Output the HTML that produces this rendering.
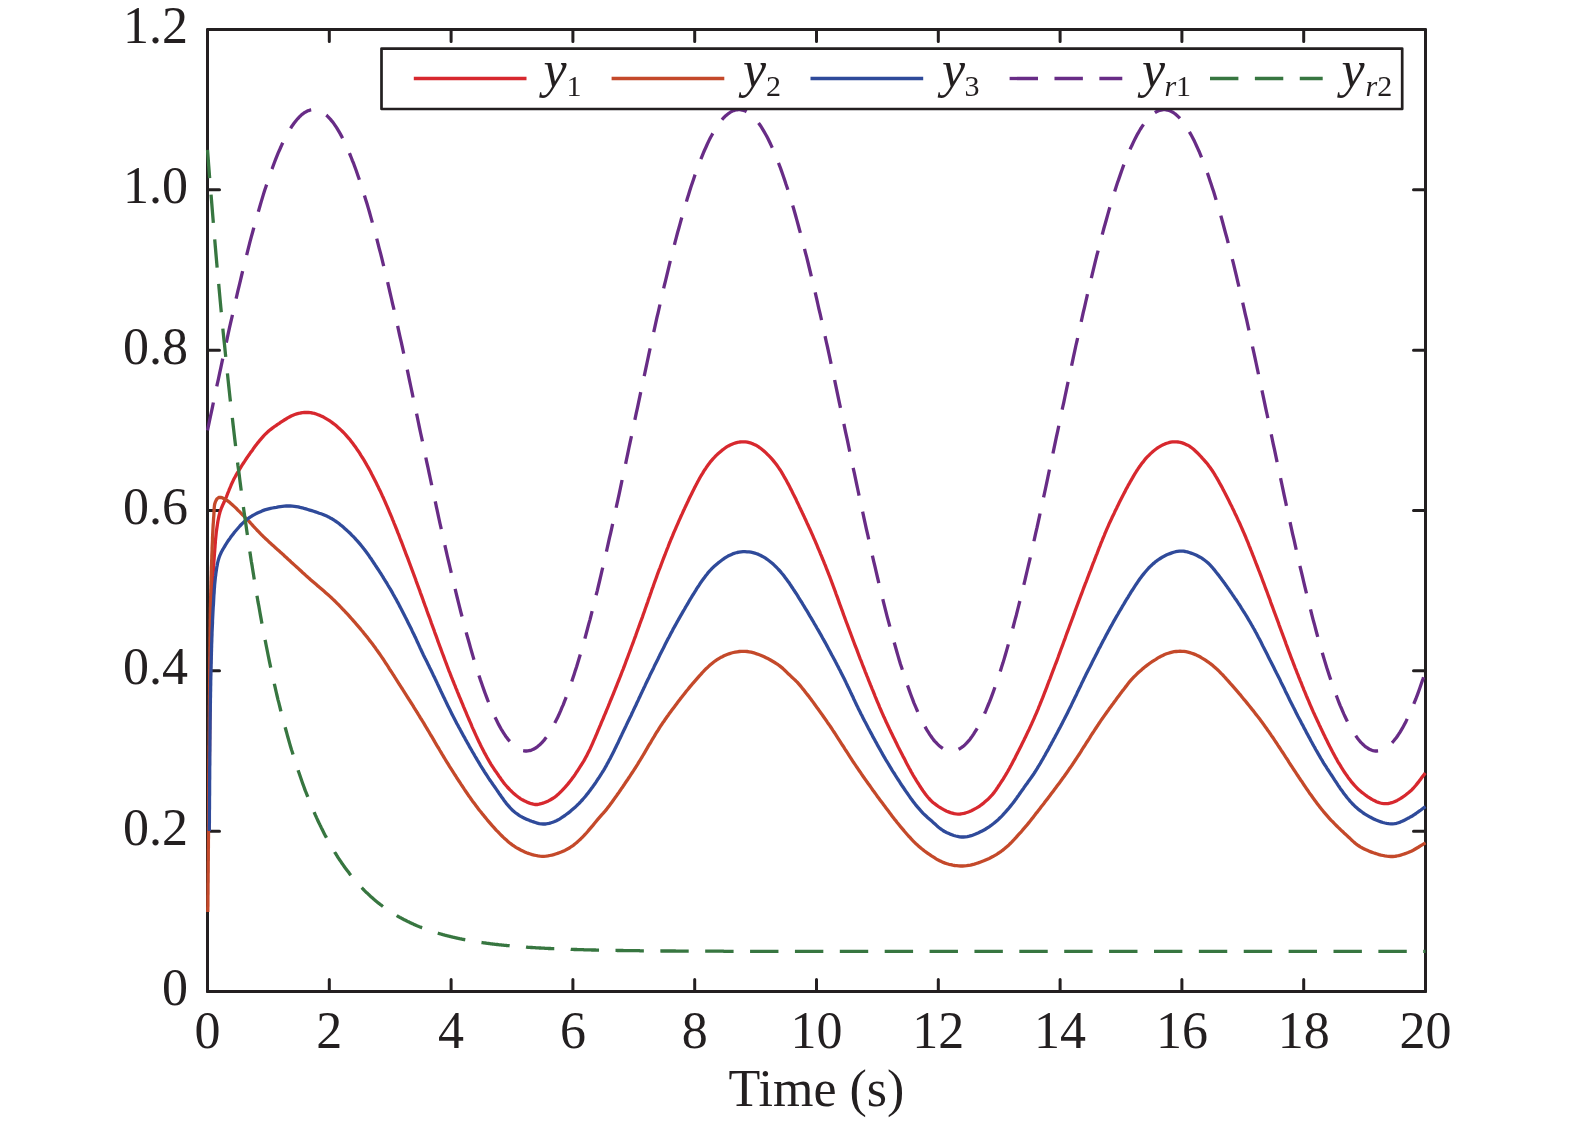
<!DOCTYPE html>
<html><head><meta charset="utf-8"><style>
html,body{margin:0;padding:0;background:#fff;width:1575px;height:1122px;overflow:hidden;}
svg{display:block;font-family:"Liberation Serif",serif;will-change:transform;}
</style></head><body>
<svg width="1575" height="1122" viewBox="0 0 1575 1122">
<defs><clipPath id="cp"><rect x="205.5" y="27.5" width="1222.0" height="966.0"/></clipPath></defs>
<path d="M207.50 991.50V979.50M207.50 29.50V41.50M329.30 991.50V979.50M329.30 29.50V41.50M451.10 991.50V979.50M451.10 29.50V41.50M572.90 991.50V979.50M572.90 29.50V41.50M694.70 991.50V979.50M694.70 29.50V41.50M816.50 991.50V979.50M816.50 29.50V41.50M938.30 991.50V979.50M938.30 29.50V41.50M1060.10 991.50V979.50M1060.10 29.50V41.50M1181.90 991.50V979.50M1181.90 29.50V41.50M1303.70 991.50V979.50M1303.70 29.50V41.50M1425.50 991.50V979.50M1425.50 29.50V41.50M207.50 991.50H219.50M1425.50 991.50H1413.50M207.50 831.17H219.50M1425.50 831.17H1413.50M207.50 670.83H219.50M1425.50 670.83H1413.50M207.50 510.50H219.50M1425.50 510.50H1413.50M207.50 350.17H219.50M1425.50 350.17H1413.50M207.50 189.83H219.50M1425.50 189.83H1413.50M207.50 29.50H219.50M1425.50 29.50H1413.50" stroke="#231f20" stroke-width="3.0" fill="none" stroke-linecap="round"/>
<rect x="207.50" y="29.50" width="1218.00" height="962.00" fill="none" stroke="#231f20" stroke-width="3.0" stroke-linejoin="round"/>
<g clip-path="url(#cp)" fill="none" stroke-width="3.3" stroke-linejoin="round" stroke-linecap="butt">
<path d="M208.8 831.0L208.8 829.0L208.8 827.0L208.9 825.0L208.9 823.0L208.9 821.0L208.9 819.0L208.9 817.0L208.9 815.0L209.0 813.0L209.0 811.0L209.0 809.0L209.0 807.0L209.0 805.0L209.0 803.0L209.1 801.0L209.1 799.0L209.1 797.0L209.1 795.0L209.1 793.0L209.1 791.0L209.2 789.0L209.2 787.0L209.2 785.0L209.2 783.0L209.2 781.0L209.2 779.0L209.3 777.0L209.3 775.0L209.3 773.0L209.3 771.0L209.3 769.0L209.3 767.0L209.4 765.0L209.4 763.0L209.4 761.0L209.4 759.0L209.4 757.0L209.5 755.0L209.5 753.0L209.5 751.0L209.5 749.0L209.5 747.0L209.6 745.0L209.6 743.0L209.6 741.0L209.6 739.0L209.6 737.0L209.6 735.0L209.7 733.0L209.7 731.0L209.7 729.0L209.7 727.0L209.7 725.0L209.8 723.0L209.8 721.0L209.8 719.0L209.8 717.0L209.9 715.0L209.9 713.0L209.9 711.0L209.9 709.0L209.9 707.0L210.0 705.0L210.0 703.0L210.0 701.0L210.0 699.0L210.0 697.0L210.1 695.0L210.1 693.0L210.1 691.0L210.1 689.0L210.2 687.0L210.2 685.0L210.2 683.0L210.2 681.0L210.2 679.0L210.3 677.0L210.3 675.0L210.3 673.0L210.3 671.0L210.4 669.0L210.4 667.0L210.4 665.0L210.5 663.0L210.5 661.0L210.5 659.0L210.5 657.0L210.6 655.0L210.6 653.0L210.6 651.0L210.6 649.0L210.7 647.0L210.7 645.0L210.7 643.0L210.7 641.0L210.8 639.0L210.8 637.0L210.8 635.0L210.8 633.0L210.9 631.0L210.9 629.0L210.9 627.0L211.0 625.0L211.0 623.0L211.0 621.0L211.1 619.0L211.1 617.0L211.2 615.0L211.2 613.0L211.3 611.0L211.4 609.0L211.4 607.0L211.5 605.0L211.6 603.0L211.7 601.0L211.8 599.0L211.8 597.0L211.9 595.0L212.0 593.0L212.1 591.0L212.2 589.0L212.3 587.0L212.4 585.0L212.6 583.0L212.7 581.0L212.8 579.1L212.9 577.1L213.0 575.1L213.1 573.1L213.3 571.1L213.4 569.1L213.5 567.1L213.7 565.1L213.8 563.1L213.9 561.1L214.1 559.1L214.2 557.1L214.4 555.1L214.5 553.1L214.7 551.1L214.8 549.1L215.0 547.1L215.1 545.1L215.3 543.1L215.4 541.1L215.6 539.2L215.8 537.2L216.0 535.2L216.2 533.2L216.4 531.2L216.7 529.2L217.0 527.2L217.3 525.3L217.6 523.3L217.9 521.3L218.3 519.3L218.7 517.4L219.1 515.4L219.6 513.5L220.1 511.6L220.8 509.7L221.5 507.8L222.3 506.0L223.1 504.2L224.0 502.3L224.8 500.5L225.6 498.7L226.4 496.8L227.1 495.0L227.8 493.1L228.6 491.3L229.3 489.4L230.1 487.6L230.9 485.7L231.6 483.9L232.5 482.1L233.3 480.3L234.2 478.5L235.2 476.7L236.2 474.9L237.2 473.2L238.2 471.5L239.2 469.8L240.3 468.1L241.3 466.4L242.4 464.7L243.5 463.0L244.6 461.4L245.7 459.7L246.8 458.0L247.9 456.4L249.1 454.7L250.2 453.1L251.4 451.5L252.6 449.9L253.7 448.2L254.9 446.6L256.1 445.0L257.3 443.4L258.6 441.9L259.8 440.3L261.1 438.8L262.4 437.3L263.7 435.8L265.1 434.4L266.6 433.0L268.0 431.6L269.6 430.3L271.1 429.1L272.7 427.9L274.3 426.7L276.0 425.6L277.6 424.4L279.3 423.3L280.9 422.2L282.6 421.1L284.3 420.0L286.0 419.0L287.7 417.9L289.4 417.0L291.2 416.0L293.0 415.2L294.8 414.5L296.7 413.9L298.6 413.4L300.5 413.0L302.5 412.7L304.5 412.5L306.4 412.5L308.4 412.5L310.4 412.7L312.3 413.0L314.3 413.4L316.2 414.0L318.0 414.7L319.9 415.4L321.7 416.2L323.5 417.1L325.2 418.1L326.9 419.1L328.6 420.1L330.3 421.2L331.9 422.4L333.5 423.6L335.1 424.8L336.6 426.1L338.1 427.4L339.6 428.7L341.1 430.1L342.5 431.5L343.9 432.9L345.3 434.3L346.6 435.8L347.9 437.3L349.2 438.8L350.5 440.4L351.7 442.0L352.9 443.6L354.1 445.2L355.3 446.8L356.4 448.4L357.5 450.1L358.7 451.7L359.8 453.4L360.8 455.1L361.9 456.8L363.0 458.5L364.0 460.2L365.0 461.9L366.0 463.6L367.0 465.4L368.0 467.1L369.0 468.9L369.9 470.6L370.9 472.4L371.8 474.2L372.7 475.9L373.6 477.7L374.5 479.5L375.4 481.3L376.3 483.1L377.2 484.9L378.1 486.7L378.9 488.5L379.8 490.3L380.7 492.1L381.5 493.9L382.3 495.7L383.2 497.5L384.0 499.3L384.8 501.2L385.6 503.0L386.4 504.8L387.2 506.7L388.0 508.5L388.8 510.4L389.5 512.2L390.3 514.0L391.1 515.9L391.9 517.7L392.6 519.6L393.4 521.4L394.1 523.3L394.9 525.1L395.6 527.0L396.4 528.9L397.1 530.7L397.8 532.6L398.6 534.4L399.3 536.3L400.0 538.2L400.7 540.0L401.5 541.9L402.2 543.8L402.9 545.6L403.6 547.5L404.3 549.4L405.0 551.2L405.7 553.1L406.4 555.0L407.2 556.9L407.9 558.7L408.6 560.6L409.3 562.5L410.0 564.3L410.7 566.2L411.4 568.1L412.1 570.0L412.8 571.8L413.5 573.7L414.2 575.6L414.9 577.5L415.6 579.3L416.2 581.2L416.9 583.1L417.6 585.0L418.3 586.8L419.0 588.7L419.7 590.6L420.3 592.5L421.0 594.4L421.7 596.2L422.4 598.1L423.1 600.0L423.7 601.9L424.4 603.8L425.1 605.7L425.8 607.5L426.5 609.4L427.1 611.3L427.8 613.2L428.5 615.1L429.2 616.9L429.9 618.8L430.6 620.7L431.2 622.6L431.9 624.5L432.6 626.3L433.3 628.2L434.0 630.1L434.6 632.0L435.3 633.9L436.0 635.7L436.7 637.6L437.4 639.5L438.0 641.4L438.7 643.3L439.4 645.1L440.1 647.0L440.8 648.9L441.5 650.8L442.2 652.7L442.9 654.5L443.6 656.4L444.3 658.3L445.0 660.2L445.7 662.0L446.4 663.9L447.1 665.8L447.8 667.6L448.5 669.5L449.2 671.4L450.0 673.2L450.7 675.1L451.4 676.9L452.2 678.8L452.9 680.7L453.7 682.5L454.4 684.4L455.2 686.2L455.9 688.1L456.7 689.9L457.4 691.8L458.2 693.6L458.9 695.5L459.7 697.3L460.5 699.2L461.2 701.0L462.0 702.9L462.8 704.7L463.5 706.6L464.3 708.4L465.1 710.3L465.9 712.1L466.6 713.9L467.4 715.8L468.2 717.6L469.0 719.5L469.8 721.3L470.6 723.1L471.4 725.0L472.1 726.8L472.9 728.6L473.8 730.5L474.6 732.3L475.4 734.1L476.2 735.9L477.1 737.8L477.9 739.6L478.8 741.4L479.7 743.2L480.5 745.0L481.4 746.8L482.3 748.5L483.2 750.3L484.1 752.1L485.1 753.9L486.0 755.6L487.0 757.4L488.0 759.1L489.0 760.9L490.0 762.6L491.0 764.3L492.1 766.0L493.2 767.6L494.3 769.3L495.4 771.0L496.6 772.6L497.7 774.2L498.8 775.9L500.0 777.5L501.1 779.2L502.3 780.8L503.5 782.4L504.7 784.0L506.0 785.5L507.3 787.0L508.7 788.5L510.0 789.9L511.5 791.3L512.9 792.7L514.4 794.0L515.9 795.3L517.5 796.5L519.1 797.7L520.7 798.8L522.4 799.8L524.2 800.8L525.9 801.6L527.7 802.4L529.6 803.1L531.4 803.7L533.3 804.2L535.3 804.5L537.2 804.5L539.1 804.2L541.0 803.7L542.9 803.1L544.7 802.5L546.6 801.7L548.4 800.9L550.1 800.0L551.8 799.0L553.5 798.0L555.2 796.8L556.7 795.6L558.2 794.3L559.6 792.9L561.1 791.5L562.4 790.1L563.8 788.6L565.2 787.1L566.5 785.6L567.8 784.1L569.0 782.6L570.3 781.0L571.5 779.4L572.7 777.8L573.9 776.2L575.0 774.6L576.1 772.9L577.2 771.3L578.3 769.6L579.4 767.9L580.5 766.2L581.6 764.5L582.6 762.8L583.7 761.1L584.7 759.4L585.6 757.6L586.6 755.9L587.5 754.1L588.4 752.3L589.3 750.5L590.2 748.7L591.0 746.9L591.8 745.1L592.6 743.3L593.4 741.4L594.2 739.6L595.0 737.8L595.8 735.9L596.6 734.1L597.4 732.2L598.1 730.4L598.9 728.6L599.7 726.7L600.5 724.9L601.2 723.0L602.0 721.2L602.8 719.3L603.6 717.5L604.3 715.6L605.1 713.8L605.9 712.0L606.6 710.1L607.4 708.3L608.2 706.4L608.9 704.6L609.7 702.7L610.4 700.9L611.2 699.0L612.0 697.2L612.7 695.3L613.5 693.5L614.2 691.6L615.0 689.7L615.7 687.9L616.5 686.0L617.2 684.2L617.9 682.3L618.7 680.5L619.4 678.6L620.2 676.7L620.9 674.9L621.6 673.0L622.3 671.2L623.1 669.3L623.8 667.4L624.5 665.6L625.2 663.7L625.9 661.8L626.6 659.9L627.3 658.1L628.0 656.2L628.7 654.3L629.4 652.5L630.1 650.6L630.8 648.7L631.5 646.8L632.2 645.0L632.9 643.1L633.6 641.2L634.3 639.3L635.0 637.4L635.7 635.6L636.3 633.7L637.0 631.8L637.7 629.9L638.4 628.0L639.1 626.2L639.7 624.3L640.4 622.4L641.1 620.5L641.8 618.6L642.5 616.8L643.1 614.9L643.8 613.0L644.5 611.1L645.1 609.2L645.8 607.3L646.5 605.4L647.1 603.6L647.8 601.7L648.4 599.8L649.1 597.9L649.8 596.0L650.4 594.1L651.1 592.2L651.7 590.3L652.4 588.4L653.1 586.6L653.7 584.7L654.4 582.8L655.1 580.9L655.8 579.0L656.5 577.2L657.1 575.3L657.8 573.4L658.5 571.5L659.2 569.7L660.0 567.8L660.7 565.9L661.4 564.0L662.1 562.2L662.8 560.3L663.5 558.4L664.2 556.6L665.0 554.7L665.7 552.8L666.4 551.0L667.1 549.1L667.9 547.3L668.6 545.4L669.3 543.5L670.1 541.7L670.8 539.8L671.6 538.0L672.4 536.1L673.1 534.3L673.9 532.4L674.7 530.6L675.5 528.8L676.3 526.9L677.1 525.1L677.9 523.3L678.7 521.4L679.5 519.6L680.3 517.8L681.1 516.0L682.0 514.1L682.8 512.3L683.6 510.5L684.5 508.7L685.3 506.9L686.2 505.1L687.0 503.3L687.9 501.5L688.7 499.7L689.6 497.8L690.5 496.0L691.4 494.3L692.2 492.5L693.1 490.7L694.0 488.9L694.9 487.1L695.9 485.3L696.8 483.6L697.7 481.8L698.7 480.0L699.6 478.3L700.6 476.5L701.6 474.8L702.7 473.1L703.7 471.4L704.8 469.7L705.9 468.1L707.0 466.4L708.2 464.8L709.4 463.2L710.6 461.6L711.9 460.1L713.2 458.6L714.6 457.2L716.0 455.7L717.4 454.3L718.9 453.0L720.4 451.7L721.9 450.4L723.5 449.2L725.1 448.0L726.7 446.9L728.4 445.9L730.2 445.0L732.0 444.2L733.8 443.5L735.7 442.9L737.6 442.4L739.6 442.0L741.5 441.8L743.5 441.8L745.4 441.9L747.4 442.2L749.3 442.7L751.2 443.2L753.0 443.9L754.8 444.7L756.6 445.6L758.3 446.7L759.9 447.8L761.5 449.0L763.0 450.2L764.5 451.5L766.0 452.9L767.4 454.3L768.8 455.7L770.2 457.1L771.6 458.6L772.9 460.1L774.1 461.6L775.4 463.2L776.6 464.8L777.7 466.4L778.9 468.1L780.0 469.7L781.1 471.4L782.1 473.1L783.1 474.8L784.1 476.6L785.1 478.3L786.1 480.0L787.0 481.8L788.0 483.6L788.9 485.3L789.8 487.1L790.7 488.9L791.7 490.7L792.5 492.5L793.4 494.3L794.3 496.0L795.2 497.8L796.1 499.6L796.9 501.4L797.8 503.2L798.7 505.1L799.5 506.9L800.4 508.7L801.2 510.5L802.1 512.3L802.9 514.1L803.8 515.9L804.6 517.7L805.5 519.5L806.3 521.3L807.1 523.2L808.0 525.0L808.8 526.8L809.6 528.6L810.5 530.4L811.3 532.3L812.1 534.1L812.9 535.9L813.7 537.8L814.5 539.6L815.3 541.4L816.1 543.3L816.9 545.1L817.6 547.0L818.4 548.8L819.2 550.6L820.0 552.5L820.7 554.3L821.5 556.2L822.2 558.0L823.0 559.9L823.8 561.7L824.5 563.6L825.3 565.4L826.0 567.3L826.7 569.2L827.5 571.0L828.2 572.9L828.9 574.7L829.7 576.6L830.4 578.5L831.1 580.3L831.8 582.2L832.5 584.1L833.2 586.0L833.9 587.8L834.6 589.7L835.3 591.6L835.9 593.5L836.6 595.4L837.3 597.2L838.0 599.1L838.7 601.0L839.3 602.9L840.0 604.8L840.7 606.6L841.4 608.5L842.1 610.4L842.8 612.3L843.4 614.2L844.1 616.0L844.8 617.9L845.5 619.8L846.2 621.7L846.9 623.5L847.6 625.4L848.3 627.3L849.0 629.1L849.7 631.0L850.4 632.9L851.1 634.8L851.8 636.6L852.5 638.5L853.2 640.4L853.9 642.3L854.6 644.1L855.3 646.0L856.1 647.9L856.8 649.7L857.5 651.6L858.2 653.5L858.9 655.3L859.6 657.2L860.3 659.1L861.1 660.9L861.8 662.8L862.5 664.7L863.2 666.5L864.0 668.4L864.7 670.3L865.4 672.1L866.2 674.0L866.9 675.8L867.7 677.7L868.4 679.6L869.1 681.4L869.9 683.3L870.6 685.1L871.4 687.0L872.1 688.8L872.9 690.7L873.6 692.5L874.4 694.4L875.1 696.3L875.9 698.1L876.6 699.9L877.4 701.8L878.2 703.6L879.0 705.5L879.7 707.3L880.5 709.2L881.3 711.0L882.1 712.8L882.9 714.7L883.7 716.5L884.6 718.3L885.4 720.1L886.2 722.0L887.1 723.8L887.9 725.6L888.8 727.4L889.6 729.2L890.5 731.0L891.3 732.8L892.2 734.6L893.1 736.4L894.0 738.2L894.9 740.0L895.7 741.8L896.6 743.6L897.5 745.4L898.4 747.2L899.3 748.9L900.2 750.7L901.1 752.5L902.0 754.3L902.9 756.1L903.9 757.9L904.8 759.6L905.7 761.4L906.6 763.2L907.5 764.9L908.5 766.7L909.4 768.5L910.4 770.2L911.3 772.0L912.3 773.7L913.3 775.5L914.3 777.2L915.4 778.9L916.4 780.6L917.5 782.3L918.6 784.0L919.6 785.7L920.7 787.3L921.8 789.0L922.9 790.7L924.1 792.3L925.3 793.9L926.5 795.5L927.7 797.0L929.0 798.5L930.4 800.0L931.8 801.4L933.3 802.7L934.9 803.9L936.5 805.1L938.1 806.3L939.8 807.3L941.5 808.4L943.2 809.4L944.9 810.3L946.7 811.2L948.5 811.9L950.4 812.6L952.3 813.1L954.2 813.6L956.2 813.9L958.1 814.1L960.1 814.0L962.0 813.7L963.9 813.3L965.8 812.8L967.7 812.2L969.6 811.5L971.4 810.7L973.2 809.8L974.9 808.9L976.7 807.9L978.4 806.9L980.0 805.8L981.6 804.6L983.2 803.4L984.7 802.1L986.2 800.8L987.7 799.5L989.1 798.1L990.5 796.6L991.9 795.2L993.2 793.6L994.4 792.1L995.6 790.5L996.7 788.8L997.8 787.2L998.9 785.5L1000.0 783.9L1001.1 782.2L1002.2 780.5L1003.3 778.8L1004.3 777.1L1005.4 775.4L1006.4 773.7L1007.4 772.0L1008.4 770.2L1009.4 768.5L1010.3 766.7L1011.3 765.0L1012.2 763.2L1013.1 761.4L1014.1 759.7L1015.0 757.9L1015.9 756.1L1016.8 754.3L1017.7 752.5L1018.6 750.8L1019.5 749.0L1020.4 747.2L1021.3 745.4L1022.2 743.6L1023.1 741.8L1024.0 740.0L1024.8 738.2L1025.7 736.4L1026.6 734.6L1027.4 732.8L1028.3 731.0L1029.2 729.2L1030.0 727.4L1030.8 725.6L1031.7 723.7L1032.5 721.9L1033.3 720.1L1034.1 718.3L1034.9 716.4L1035.7 714.6L1036.5 712.8L1037.3 710.9L1038.1 709.1L1038.8 707.2L1039.6 705.4L1040.3 703.5L1041.1 701.7L1041.8 699.8L1042.6 697.9L1043.3 696.1L1044.0 694.2L1044.7 692.4L1045.5 690.5L1046.2 688.6L1046.9 686.8L1047.6 684.9L1048.3 683.0L1049.0 681.2L1049.8 679.3L1050.5 677.4L1051.2 675.5L1051.9 673.7L1052.6 671.8L1053.3 669.9L1054.0 668.1L1054.7 666.2L1055.4 664.3L1056.2 662.5L1056.9 660.6L1057.6 658.7L1058.3 656.8L1058.9 655.0L1059.6 653.1L1060.3 651.2L1061.0 649.3L1061.7 647.5L1062.4 645.6L1063.1 643.7L1063.8 641.8L1064.5 639.9L1065.2 638.1L1065.8 636.2L1066.5 634.3L1067.2 632.4L1067.9 630.6L1068.6 628.7L1069.3 626.8L1070.0 624.9L1070.7 623.0L1071.4 621.2L1072.1 619.3L1072.8 617.4L1073.5 615.5L1074.2 613.7L1074.8 611.8L1075.5 609.9L1076.2 608.0L1076.9 606.2L1077.6 604.3L1078.3 602.4L1079.0 600.5L1079.7 598.7L1080.4 596.8L1081.1 594.9L1081.8 593.1L1082.5 591.2L1083.2 589.3L1083.9 587.4L1084.6 585.6L1085.3 583.7L1086.1 581.8L1086.8 580.0L1087.5 578.1L1088.2 576.2L1088.9 574.4L1089.6 572.5L1090.4 570.6L1091.1 568.8L1091.8 566.9L1092.5 565.0L1093.2 563.2L1094.0 561.3L1094.7 559.4L1095.4 557.6L1096.1 555.7L1096.9 553.8L1097.6 552.0L1098.3 550.1L1099.0 548.2L1099.8 546.4L1100.5 544.5L1101.2 542.7L1102.0 540.8L1102.7 539.0L1103.5 537.1L1104.3 535.3L1105.0 533.4L1105.8 531.6L1106.6 529.7L1107.4 527.9L1108.2 526.1L1109.0 524.2L1109.8 522.4L1110.7 520.6L1111.5 518.8L1112.3 517.0L1113.2 515.2L1114.1 513.4L1114.9 511.6L1115.8 509.8L1116.7 508.0L1117.5 506.2L1118.4 504.4L1119.3 502.6L1120.2 500.8L1121.1 499.0L1122.0 497.2L1122.9 495.4L1123.8 493.7L1124.8 491.9L1125.7 490.1L1126.6 488.3L1127.6 486.6L1128.5 484.8L1129.5 483.1L1130.5 481.3L1131.5 479.6L1132.5 477.9L1133.5 476.1L1134.5 474.4L1135.6 472.7L1136.6 471.0L1137.7 469.4L1138.8 467.7L1140.0 466.1L1141.1 464.4L1142.3 462.8L1143.6 461.3L1144.8 459.7L1146.1 458.2L1147.5 456.7L1148.9 455.3L1150.3 453.9L1151.7 452.6L1153.2 451.2L1154.8 450.0L1156.4 448.8L1158.0 447.6L1159.7 446.6L1161.4 445.6L1163.1 444.7L1165.0 443.9L1166.8 443.3L1168.7 442.7L1170.6 442.2L1172.5 441.9L1174.5 441.8L1176.5 441.8L1178.4 442.0L1180.3 442.4L1182.2 442.9L1184.1 443.6L1185.9 444.4L1187.7 445.2L1189.4 446.2L1191.0 447.3L1192.6 448.5L1194.1 449.8L1195.6 451.2L1197.0 452.5L1198.4 453.9L1199.8 455.4L1201.2 456.8L1202.5 458.3L1203.9 459.8L1205.2 461.3L1206.5 462.8L1207.7 464.3L1208.9 465.9L1210.1 467.5L1211.3 469.2L1212.4 470.8L1213.5 472.5L1214.5 474.2L1215.5 475.9L1216.6 477.6L1217.6 479.4L1218.6 481.1L1219.5 482.9L1220.5 484.6L1221.5 486.4L1222.4 488.1L1223.3 489.9L1224.3 491.7L1225.2 493.4L1226.1 495.2L1227.0 497.0L1227.9 498.8L1228.8 500.6L1229.7 502.4L1230.6 504.2L1231.5 505.9L1232.3 507.7L1233.2 509.5L1234.1 511.3L1234.9 513.2L1235.8 515.0L1236.7 516.8L1237.5 518.6L1238.3 520.4L1239.2 522.2L1240.0 524.0L1240.8 525.9L1241.6 527.7L1242.4 529.5L1243.2 531.4L1244.0 533.2L1244.8 535.0L1245.6 536.9L1246.3 538.7L1247.1 540.6L1247.9 542.4L1248.6 544.3L1249.3 546.1L1250.1 548.0L1250.8 549.9L1251.6 551.7L1252.3 553.6L1253.0 555.4L1253.8 557.3L1254.5 559.2L1255.2 561.0L1255.9 562.9L1256.7 564.8L1257.4 566.6L1258.1 568.5L1258.8 570.3L1259.6 572.2L1260.3 574.1L1261.0 575.9L1261.7 577.8L1262.4 579.7L1263.1 581.6L1263.8 583.4L1264.5 585.3L1265.2 587.2L1265.9 589.1L1266.6 590.9L1267.3 592.8L1268.0 594.7L1268.7 596.6L1269.4 598.4L1270.1 600.3L1270.7 602.2L1271.4 604.1L1272.1 605.9L1272.8 607.8L1273.5 609.7L1274.2 611.6L1274.9 613.5L1275.6 615.3L1276.3 617.2L1277.0 619.1L1277.7 621.0L1278.4 622.8L1279.0 624.7L1279.7 626.6L1280.4 628.5L1281.1 630.3L1281.8 632.2L1282.5 634.1L1283.2 636.0L1283.9 637.8L1284.6 639.7L1285.3 641.6L1285.9 643.5L1286.6 645.4L1287.3 647.2L1288.0 649.1L1288.7 651.0L1289.4 652.9L1290.1 654.7L1290.8 656.6L1291.5 658.5L1292.3 660.3L1293.0 662.2L1293.7 664.1L1294.4 665.9L1295.1 667.8L1295.9 669.7L1296.6 671.5L1297.3 673.4L1298.1 675.2L1298.8 677.1L1299.6 679.0L1300.3 680.8L1301.1 682.7L1301.8 684.5L1302.5 686.4L1303.3 688.2L1304.0 690.1L1304.8 691.9L1305.6 693.8L1306.3 695.6L1307.1 697.5L1307.9 699.3L1308.7 701.2L1309.4 703.0L1310.2 704.8L1311.0 706.7L1311.8 708.5L1312.6 710.3L1313.4 712.2L1314.3 714.0L1315.1 715.8L1315.9 717.6L1316.8 719.4L1317.6 721.3L1318.5 723.1L1319.3 724.9L1320.2 726.7L1321.0 728.5L1321.9 730.3L1322.7 732.1L1323.6 733.9L1324.5 735.7L1325.3 737.5L1326.2 739.3L1327.1 741.1L1328.0 742.9L1328.9 744.7L1329.8 746.5L1330.7 748.2L1331.6 750.0L1332.5 751.8L1333.5 753.6L1334.4 755.3L1335.4 757.1L1336.4 758.8L1337.3 760.6L1338.3 762.3L1339.4 764.0L1340.4 765.7L1341.4 767.4L1342.5 769.1L1343.6 770.8L1344.7 772.5L1345.8 774.1L1347.0 775.8L1348.1 777.4L1349.3 779.0L1350.5 780.6L1351.7 782.2L1353.0 783.7L1354.3 785.2L1355.7 786.7L1357.1 788.1L1358.5 789.5L1360.0 790.8L1361.5 792.1L1363.1 793.3L1364.7 794.5L1366.3 795.7L1367.9 796.8L1369.6 797.9L1371.3 799.0L1373.0 799.9L1374.8 800.8L1376.5 801.7L1378.4 802.4L1380.3 803.0L1382.2 803.4L1384.1 803.7L1386.1 803.7L1388.0 803.6L1389.9 803.2L1391.8 802.7L1393.7 802.0L1395.5 801.2L1397.2 800.4L1399.0 799.4L1400.7 798.4L1402.3 797.3L1404.0 796.2L1405.6 795.0L1407.1 793.8L1408.7 792.5L1410.2 791.2L1411.7 789.9L1413.1 788.5L1414.4 787.0L1415.7 785.5L1417.0 783.9L1418.2 782.4L1419.4 780.8L1420.6 779.2L1421.8 777.6L1423.0 776.0L1424.2 774.4L1425.3 772.9" stroke="#d7282e"/>
<path d="M207.8 912.0L207.8 910.0L207.8 908.0L207.9 906.0L207.9 904.0L207.9 902.0L207.9 900.0L207.9 898.0L207.9 896.0L208.0 894.0L208.0 892.0L208.0 890.0L208.0 888.0L208.0 886.0L208.0 884.0L208.1 882.0L208.1 880.0L208.1 878.0L208.1 876.0L208.1 874.0L208.2 872.0L208.2 870.0L208.2 868.0L208.2 866.0L208.2 864.0L208.2 862.0L208.3 860.0L208.3 858.0L208.3 856.0L208.3 854.0L208.3 852.0L208.3 850.0L208.4 848.0L208.4 846.0L208.4 844.0L208.4 842.0L208.4 840.0L208.5 838.0L208.5 836.0L208.5 834.0L208.5 832.0L208.5 830.0L208.5 828.0L208.6 826.0L208.6 824.0L208.6 822.0L208.6 820.0L208.6 818.0L208.6 816.0L208.6 814.0L208.7 812.0L208.7 810.0L208.7 808.0L208.7 806.0L208.7 804.0L208.7 802.0L208.8 800.0L208.8 798.0L208.8 796.0L208.8 794.0L208.8 792.0L208.8 790.0L208.8 788.0L208.9 786.0L208.9 784.0L208.9 782.0L208.9 780.0L208.9 778.0L208.9 776.0L208.9 774.0L209.0 772.0L209.0 770.0L209.0 768.0L209.0 766.0L209.0 764.0L209.0 762.0L209.0 760.0L209.1 758.0L209.1 756.0L209.1 754.0L209.1 752.0L209.1 750.0L209.1 748.0L209.1 746.0L209.2 744.0L209.2 742.0L209.2 740.0L209.2 738.0L209.2 736.0L209.2 734.0L209.2 732.0L209.3 730.0L209.3 728.0L209.3 726.0L209.3 724.0L209.3 722.0L209.3 720.0L209.3 718.0L209.4 716.0L209.4 714.0L209.4 712.0L209.4 710.0L209.4 708.0L209.4 706.0L209.5 704.0L209.5 702.0L209.5 700.0L209.5 698.0L209.5 696.0L209.6 694.0L209.6 692.0L209.6 690.0L209.6 688.0L209.6 686.0L209.6 684.0L209.7 682.0L209.7 680.0L209.7 678.0L209.7 676.0L209.7 674.0L209.7 672.0L209.7 670.0L209.8 668.0L209.8 666.0L209.8 664.0L209.8 662.0L209.8 660.0L209.8 658.0L209.9 656.0L209.9 654.0L209.9 652.0L209.9 650.0L209.9 648.0L210.0 646.0L210.0 644.0L210.0 642.0L210.0 640.0L210.0 638.0L210.1 636.0L210.1 634.0L210.1 632.0L210.1 630.0L210.1 628.0L210.2 626.0L210.2 624.0L210.2 622.0L210.2 620.0L210.3 618.0L210.3 616.0L210.3 614.0L210.4 612.0L210.4 610.0L210.4 608.0L210.5 606.0L210.5 604.0L210.6 602.0L210.6 600.0L210.6 598.0L210.7 596.0L210.7 594.0L210.8 592.0L210.8 590.0L210.9 588.0L210.9 586.0L211.0 584.0L211.0 582.0L211.1 580.0L211.1 578.0L211.2 576.0L211.3 574.0L211.3 572.0L211.4 570.0L211.4 568.0L211.5 566.0L211.6 564.0L211.6 562.0L211.7 560.0L211.8 558.0L211.8 556.0L211.9 554.0L212.0 552.0L212.1 550.0L212.1 548.0L212.2 546.0L212.3 544.0L212.4 542.0L212.5 540.0L212.5 538.0L212.6 536.0L212.7 534.0L212.8 532.1L212.9 530.1L213.0 528.1L213.1 526.1L213.2 524.1L213.4 522.1L213.5 520.1L213.6 518.1L213.8 516.1L213.9 514.1L214.0 512.1L214.1 510.1L214.2 508.1L214.4 506.1L214.7 504.1L215.3 502.2L216.1 500.4L217.1 498.7L218.7 497.5L220.6 497.3L222.5 497.9L224.3 498.8L226.0 499.8L227.7 500.9L229.3 502.1L230.8 503.4L232.3 504.7L233.8 506.1L235.2 507.4L236.7 508.8L238.1 510.3L239.5 511.7L240.9 513.1L242.3 514.5L243.7 515.9L245.1 517.4L246.5 518.8L247.9 520.2L249.3 521.7L250.6 523.2L252.0 524.6L253.3 526.1L254.7 527.6L256.0 529.0L257.4 530.5L258.8 531.9L260.2 533.4L261.6 534.8L263.0 536.2L264.5 537.6L265.9 539.0L267.4 540.3L268.8 541.7L270.3 543.1L271.8 544.4L273.3 545.7L274.7 547.1L276.2 548.4L277.7 549.8L279.2 551.1L280.7 552.4L282.2 553.8L283.7 555.1L285.1 556.5L286.6 557.8L288.1 559.2L289.6 560.5L291.0 561.9L292.5 563.2L294.0 564.6L295.4 565.9L296.9 567.3L298.4 568.6L299.9 570.0L301.3 571.3L302.8 572.7L304.3 574.0L305.8 575.4L307.3 576.7L308.8 578.1L310.3 579.4L311.8 580.7L313.3 582.0L314.8 583.3L316.3 584.6L317.8 585.9L319.4 587.2L320.9 588.5L322.4 589.8L323.9 591.1L325.4 592.4L326.9 593.7L328.4 595.0L329.9 596.4L331.4 597.8L332.8 599.1L334.3 600.5L335.7 601.9L337.1 603.3L338.5 604.7L339.9 606.2L341.3 607.6L342.7 609.1L344.1 610.5L345.4 612.0L346.8 613.4L348.2 614.9L349.5 616.4L350.8 617.9L352.2 619.3L353.5 620.8L354.8 622.3L356.1 623.9L357.4 625.4L358.7 626.9L360.0 628.4L361.3 630.0L362.6 631.5L363.8 633.1L365.1 634.6L366.3 636.2L367.6 637.7L368.8 639.3L370.0 640.9L371.3 642.5L372.5 644.1L373.7 645.7L374.9 647.3L376.0 648.9L377.2 650.5L378.4 652.2L379.5 653.8L380.6 655.4L381.8 657.1L382.9 658.7L384.0 660.4L385.1 662.1L386.2 663.8L387.3 665.4L388.4 667.1L389.4 668.8L390.5 670.5L391.6 672.2L392.7 673.9L393.8 675.5L394.8 677.2L395.9 678.9L397.0 680.6L398.1 682.3L399.1 684.0L400.2 685.6L401.3 687.3L402.4 689.0L403.4 690.7L404.5 692.4L405.6 694.1L406.7 695.8L407.7 697.5L408.8 699.2L409.9 700.8L410.9 702.5L412.0 704.2L413.1 705.9L414.1 707.6L415.2 709.3L416.2 711.0L417.3 712.7L418.3 714.4L419.4 716.1L420.4 717.8L421.5 719.5L422.5 721.2L423.6 722.9L424.6 724.6L425.6 726.4L426.7 728.1L427.7 729.8L428.7 731.5L429.7 733.2L430.7 735.0L431.8 736.7L432.8 738.4L433.8 740.1L434.8 741.9L435.8 743.6L436.8 745.3L437.8 747.0L438.9 748.7L439.9 750.5L440.9 752.2L441.9 753.9L443.0 755.6L444.0 757.3L445.0 759.0L446.1 760.8L447.1 762.5L448.2 764.2L449.2 765.9L450.3 767.6L451.3 769.2L452.4 770.9L453.5 772.6L454.6 774.3L455.7 776.0L456.7 777.7L457.8 779.3L458.9 781.0L460.0 782.7L461.1 784.4L462.2 786.0L463.3 787.7L464.4 789.4L465.5 791.0L466.7 792.7L467.8 794.3L468.9 796.0L470.1 797.6L471.2 799.2L472.4 800.9L473.6 802.5L474.8 804.1L476.0 805.7L477.2 807.3L478.4 808.9L479.6 810.5L480.9 812.0L482.1 813.6L483.4 815.1L484.6 816.7L485.9 818.2L487.2 819.8L488.5 821.3L489.8 822.8L491.1 824.3L492.4 825.8L493.8 827.3L495.1 828.8L496.4 830.3L497.8 831.7L499.2 833.2L500.6 834.6L502.0 836.0L503.4 837.4L504.9 838.8L506.4 840.1L507.9 841.4L509.4 842.7L511.0 843.9L512.6 845.1L514.2 846.2L515.9 847.3L517.6 848.3L519.4 849.3L521.1 850.2L522.9 851.1L524.7 851.9L526.6 852.7L528.4 853.4L530.3 854.0L532.2 854.6L534.2 855.1L536.1 855.5L538.0 855.9L540.0 856.2L542.0 856.3L543.9 856.3L545.9 856.2L547.9 855.9L549.8 855.5L551.8 855.1L553.7 854.6L555.6 854.0L557.5 853.4L559.3 852.7L561.2 852.0L563.0 851.2L564.9 850.4L566.6 849.5L568.4 848.6L570.1 847.5L571.7 846.4L573.4 845.3L574.9 844.0L576.5 842.8L578.0 841.4L579.4 840.1L580.9 838.7L582.3 837.3L583.7 835.9L585.1 834.4L586.4 833.0L587.7 831.5L589.0 829.9L590.3 828.4L591.6 826.9L592.9 825.4L594.2 823.8L595.4 822.3L596.7 820.7L598.0 819.2L599.3 817.7L600.6 816.2L601.9 814.7L603.3 813.2L604.6 811.7L605.9 810.1L607.1 808.6L608.3 807.0L609.5 805.4L610.7 803.8L611.9 802.2L613.1 800.6L614.2 798.9L615.4 797.3L616.6 795.7L617.7 794.0L618.9 792.4L620.0 790.8L621.1 789.1L622.3 787.5L623.4 785.8L624.5 784.2L625.6 782.5L626.8 780.8L627.9 779.2L629.0 777.5L630.1 775.9L631.2 774.2L632.3 772.5L633.4 770.9L634.5 769.2L635.6 767.5L636.6 765.8L637.7 764.1L638.7 762.4L639.8 760.7L640.8 759.0L641.8 757.3L642.9 755.5L643.9 753.8L644.9 752.1L645.9 750.4L646.9 748.7L647.9 746.9L648.9 745.2L650.0 743.5L651.0 741.8L652.0 740.0L653.0 738.3L654.1 736.6L655.1 734.9L656.1 733.2L657.2 731.5L658.3 729.8L659.3 728.1L660.4 726.4L661.5 724.8L662.6 723.1L663.8 721.5L664.9 719.8L666.0 718.2L667.2 716.5L668.4 714.9L669.5 713.3L670.7 711.7L671.9 710.1L673.1 708.5L674.3 706.9L675.5 705.3L676.7 703.7L677.9 702.1L679.1 700.5L680.3 698.9L681.6 697.3L682.8 695.7L684.0 694.2L685.3 692.6L686.5 691.0L687.8 689.5L689.1 687.9L690.3 686.4L691.6 684.9L692.9 683.3L694.2 681.8L695.5 680.3L696.8 678.8L698.1 677.3L699.4 675.8L700.8 674.3L702.1 672.8L703.5 671.4L704.9 669.9L706.3 668.5L707.8 667.2L709.2 665.8L710.7 664.5L712.3 663.2L713.8 662.0L715.4 660.8L717.1 659.7L718.8 658.6L720.5 657.6L722.3 656.7L724.0 655.8L725.9 655.0L727.7 654.3L729.6 653.6L731.5 653.0L733.4 652.5L735.3 652.1L737.3 651.8L739.3 651.5L741.2 651.4L743.2 651.3L745.2 651.3L747.2 651.5L749.1 651.8L751.1 652.2L753.0 652.7L754.9 653.2L756.8 653.9L758.7 654.5L760.6 655.2L762.4 656.0L764.2 656.8L766.0 657.7L767.8 658.6L769.6 659.5L771.3 660.5L773.0 661.5L774.7 662.5L776.4 663.6L778.1 664.7L779.7 665.9L781.2 667.1L782.8 668.4L784.2 669.8L785.7 671.2L787.1 672.6L788.5 674.0L790.0 675.3L791.4 676.7L792.9 678.1L794.3 679.4L795.8 680.8L797.2 682.2L798.5 683.7L799.8 685.2L801.1 686.7L802.4 688.3L803.7 689.8L804.9 691.4L806.1 693.0L807.4 694.6L808.6 696.1L809.8 697.7L811.0 699.3L812.2 700.9L813.4 702.6L814.6 704.2L815.7 705.8L816.9 707.4L818.1 709.0L819.2 710.6L820.4 712.3L821.6 713.9L822.7 715.5L823.9 717.2L825.0 718.8L826.2 720.4L827.3 722.1L828.4 723.7L829.6 725.4L830.7 727.0L831.8 728.7L832.9 730.4L834.0 732.0L835.1 733.7L836.2 735.4L837.3 737.1L838.4 738.8L839.4 740.4L840.5 742.1L841.6 743.8L842.7 745.5L843.8 747.2L844.8 748.9L845.9 750.5L847.0 752.2L848.1 753.9L849.2 755.6L850.3 757.3L851.3 758.9L852.4 760.6L853.5 762.3L854.6 763.9L855.8 765.6L856.9 767.3L858.0 768.9L859.1 770.6L860.3 772.2L861.4 773.9L862.5 775.5L863.7 777.2L864.8 778.8L866.0 780.4L867.1 782.1L868.3 783.7L869.5 785.3L870.6 786.9L871.8 788.6L872.9 790.2L874.1 791.8L875.3 793.4L876.5 795.1L877.6 796.7L878.8 798.3L880.0 799.9L881.2 801.5L882.4 803.1L883.6 804.7L884.8 806.3L886.0 807.9L887.2 809.5L888.4 811.1L889.6 812.7L890.8 814.3L892.0 815.9L893.2 817.5L894.4 819.1L895.7 820.6L896.9 822.2L898.2 823.8L899.4 825.3L900.7 826.9L902.0 828.4L903.3 829.9L904.6 831.5L905.9 833.0L907.2 834.5L908.5 836.0L909.9 837.4L911.2 838.9L912.6 840.4L914.0 841.8L915.4 843.2L916.9 844.6L918.4 845.9L919.9 847.2L921.4 848.5L923.0 849.7L924.5 851.0L926.1 852.1L927.8 853.3L929.4 854.4L931.1 855.6L932.7 856.6L934.4 857.7L936.1 858.8L937.8 859.8L939.6 860.7L941.4 861.6L943.2 862.4L945.1 863.1L947.0 863.7L948.9 864.3L950.8 864.7L952.7 865.2L954.7 865.5L956.7 865.7L958.6 865.9L960.6 866.0L962.6 866.0L964.6 865.9L966.6 865.7L968.5 865.4L970.5 865.1L972.4 864.6L974.4 864.1L976.3 863.5L978.2 862.9L980.0 862.2L981.9 861.5L983.8 860.8L985.6 860.0L987.4 859.2L989.2 858.4L991.0 857.5L992.8 856.6L994.5 855.6L996.3 854.6L997.9 853.5L999.6 852.4L1001.2 851.3L1002.8 850.1L1004.4 848.8L1005.9 847.5L1007.4 846.2L1008.9 844.9L1010.3 843.5L1011.7 842.1L1013.1 840.6L1014.5 839.2L1015.9 837.7L1017.2 836.2L1018.5 834.7L1019.9 833.2L1021.2 831.8L1022.5 830.2L1023.8 828.7L1025.1 827.2L1026.4 825.7L1027.7 824.1L1028.9 822.6L1030.2 821.0L1031.4 819.4L1032.7 817.9L1033.9 816.3L1035.1 814.7L1036.3 813.1L1037.6 811.6L1038.8 810.0L1040.0 808.4L1041.2 806.8L1042.5 805.2L1043.7 803.7L1044.9 802.1L1046.1 800.5L1047.4 798.9L1048.6 797.3L1049.8 795.7L1051.0 794.1L1052.2 792.5L1053.4 790.9L1054.6 789.3L1055.8 787.7L1057.0 786.1L1058.2 784.5L1059.4 782.9L1060.6 781.3L1061.7 779.7L1062.9 778.1L1064.1 776.5L1065.3 774.8L1066.4 773.2L1067.6 771.6L1068.7 769.9L1069.8 768.3L1071.0 766.6L1072.1 765.0L1073.2 763.3L1074.3 761.7L1075.4 760.0L1076.5 758.3L1077.6 756.6L1078.7 755.0L1079.8 753.3L1080.9 751.6L1081.9 749.9L1083.0 748.2L1084.1 746.5L1085.2 744.8L1086.2 743.2L1087.3 741.5L1088.4 739.8L1089.5 738.1L1090.5 736.4L1091.6 734.7L1092.7 733.0L1093.8 731.4L1094.9 729.7L1096.0 728.0L1097.1 726.3L1098.2 724.7L1099.3 723.0L1100.4 721.4L1101.5 719.7L1102.7 718.1L1103.8 716.4L1105.0 714.8L1106.1 713.2L1107.3 711.5L1108.5 709.9L1109.6 708.3L1110.8 706.7L1112.0 705.1L1113.2 703.5L1114.4 701.8L1115.6 700.2L1116.7 698.6L1117.9 697.0L1119.1 695.4L1120.3 693.8L1121.5 692.2L1122.7 690.6L1124.0 689.0L1125.2 687.4L1126.4 685.9L1127.6 684.3L1128.8 682.7L1130.1 681.2L1131.4 679.7L1132.8 678.2L1134.2 676.7L1135.6 675.3L1137.0 673.9L1138.4 672.5L1139.9 671.2L1141.4 669.9L1142.9 668.6L1144.5 667.3L1146.0 666.1L1147.6 664.9L1149.2 663.7L1150.9 662.5L1152.5 661.4L1154.2 660.3L1155.9 659.3L1157.6 658.2L1159.3 657.2L1161.0 656.3L1162.8 655.4L1164.6 654.5L1166.5 653.8L1168.4 653.2L1170.3 652.6L1172.2 652.1L1174.1 651.7L1176.1 651.5L1178.1 651.3L1180.0 651.2L1182.0 651.3L1184.0 651.4L1185.9 651.7L1187.9 652.1L1189.8 652.6L1191.7 653.2L1193.6 653.9L1195.4 654.6L1197.2 655.4L1199.0 656.3L1200.8 657.3L1202.5 658.3L1204.2 659.3L1205.8 660.4L1207.5 661.6L1209.1 662.7L1210.7 663.9L1212.3 665.1L1213.8 666.4L1215.3 667.7L1216.8 669.1L1218.3 670.4L1219.7 671.8L1221.1 673.3L1222.5 674.7L1223.8 676.2L1225.2 677.6L1226.5 679.1L1227.9 680.6L1229.2 682.1L1230.5 683.6L1231.9 685.1L1233.2 686.6L1234.5 688.1L1235.8 689.6L1237.1 691.1L1238.4 692.6L1239.7 694.2L1241.0 695.7L1242.2 697.2L1243.5 698.8L1244.8 700.3L1246.1 701.9L1247.3 703.4L1248.6 705.0L1249.8 706.5L1251.1 708.1L1252.3 709.7L1253.6 711.2L1254.8 712.8L1256.0 714.4L1257.3 716.0L1258.5 717.5L1259.7 719.1L1260.9 720.7L1262.1 722.3L1263.3 723.9L1264.4 725.6L1265.6 727.2L1266.8 728.8L1267.9 730.5L1269.1 732.1L1270.2 733.7L1271.3 735.4L1272.5 737.0L1273.6 738.7L1274.7 740.4L1275.8 742.0L1276.9 743.7L1278.0 745.4L1279.1 747.0L1280.2 748.7L1281.3 750.4L1282.4 752.0L1283.5 753.7L1284.6 755.4L1285.7 757.1L1286.8 758.7L1287.9 760.4L1288.9 762.1L1290.0 763.8L1291.1 765.5L1292.2 767.1L1293.3 768.8L1294.4 770.5L1295.5 772.1L1296.6 773.8L1297.7 775.5L1298.8 777.2L1299.9 778.8L1301.0 780.5L1302.2 782.1L1303.3 783.8L1304.4 785.5L1305.5 787.1L1306.6 788.8L1307.8 790.4L1308.9 792.1L1310.0 793.7L1311.2 795.3L1312.4 797.0L1313.5 798.6L1314.7 800.2L1315.9 801.8L1317.1 803.4L1318.3 805.0L1319.5 806.6L1320.8 808.2L1322.0 809.7L1323.3 811.3L1324.6 812.8L1325.9 814.3L1327.2 815.8L1328.5 817.3L1329.8 818.8L1331.2 820.3L1332.6 821.7L1334.0 823.2L1335.4 824.6L1336.8 826.0L1338.2 827.4L1339.7 828.8L1341.1 830.2L1342.6 831.5L1344.0 832.9L1345.5 834.2L1347.0 835.6L1348.4 837.0L1349.9 838.3L1351.3 839.7L1352.8 841.1L1354.2 842.4L1355.8 843.7L1357.3 844.9L1359.0 846.0L1360.7 847.1L1362.4 848.0L1364.2 848.9L1366.0 849.8L1367.8 850.6L1369.7 851.4L1371.5 852.1L1373.4 852.8L1375.3 853.4L1377.2 854.0L1379.1 854.6L1381.0 855.1L1383.0 855.5L1384.9 855.9L1386.9 856.2L1388.8 856.4L1390.8 856.5L1392.8 856.5L1394.8 856.3L1396.7 856.0L1398.7 855.6L1400.6 855.1L1402.5 854.5L1404.4 853.9L1406.3 853.2L1408.1 852.5L1410.0 851.7L1411.8 850.9L1413.6 850.0L1415.3 849.0L1417.0 848.0L1418.7 847.0L1420.4 845.9L1422.1 844.9L1423.8 843.8L1425.5 842.8" stroke="#c4492a"/>
<path d="M209.3 831.0L209.3 829.0L209.3 827.0L209.3 825.0L209.4 823.0L209.4 821.0L209.4 819.0L209.4 817.0L209.4 815.0L209.4 813.0L209.4 811.0L209.5 809.0L209.5 807.0L209.5 805.0L209.5 803.0L209.5 801.0L209.5 799.0L209.5 797.0L209.6 795.0L209.6 793.0L209.6 791.0L209.6 789.0L209.6 787.0L209.6 785.0L209.6 783.0L209.6 781.0L209.7 779.0L209.7 777.0L209.7 775.0L209.7 773.0L209.7 771.0L209.7 769.0L209.7 767.0L209.8 765.0L209.8 763.0L209.8 761.0L209.8 759.0L209.8 757.0L209.8 755.0L209.8 753.0L209.9 751.0L209.9 749.0L209.9 747.0L209.9 745.0L209.9 743.0L209.9 741.0L210.0 739.0L210.0 737.0L210.0 735.0L210.0 733.0L210.0 731.0L210.1 729.0L210.1 727.0L210.1 725.0L210.1 723.0L210.1 721.0L210.2 719.0L210.2 717.0L210.2 715.0L210.2 713.0L210.3 711.0L210.3 709.0L210.3 707.0L210.3 705.0L210.4 703.0L210.4 701.0L210.4 699.0L210.5 697.0L210.5 695.0L210.5 693.0L210.6 691.0L210.6 689.0L210.6 687.0L210.7 685.0L210.7 683.0L210.7 681.0L210.8 679.0L210.8 677.0L210.9 675.0L210.9 673.0L211.0 671.0L211.0 669.0L211.1 667.0L211.1 665.0L211.2 663.0L211.2 661.0L211.3 659.0L211.3 657.0L211.4 655.0L211.4 653.0L211.5 651.0L211.5 649.0L211.6 647.0L211.6 645.0L211.7 643.0L211.8 641.0L211.8 639.0L211.9 637.0L212.0 635.0L212.0 633.0L212.1 631.0L212.2 629.0L212.3 627.0L212.4 625.0L212.5 623.0L212.5 621.0L212.6 619.0L212.7 617.0L212.8 615.0L212.9 613.0L213.0 611.0L213.1 609.1L213.2 607.1L213.4 605.1L213.5 603.1L213.6 601.1L213.7 599.1L213.8 597.1L213.9 595.1L214.1 593.1L214.2 591.1L214.3 589.1L214.5 587.1L214.6 585.1L214.8 583.1L215.0 581.1L215.2 579.1L215.4 577.1L215.7 575.2L215.9 573.2L216.2 571.2L216.5 569.2L216.8 567.2L217.2 565.3L217.5 563.3L218.0 561.4L218.5 559.4L219.1 557.5L219.8 555.6L220.6 553.8L221.4 552.0L222.4 550.2L223.4 548.5L224.4 546.8L225.4 545.1L226.5 543.4L227.6 541.7L228.7 540.0L229.9 538.4L231.0 536.8L232.2 535.2L233.5 533.6L234.7 532.0L236.0 530.5L237.3 529.0L238.6 527.5L239.9 526.0L241.3 524.5L242.7 523.1L244.2 521.7L245.6 520.4L247.2 519.2L248.8 518.0L250.5 516.9L252.2 515.8L253.9 514.9L255.7 513.9L257.4 513.0L259.2 512.2L261.1 511.4L262.9 510.6L264.8 509.9L266.7 509.4L268.6 508.9L270.6 508.4L272.5 508.0L274.5 507.6L276.4 507.3L278.4 506.9L280.4 506.6L282.4 506.4L284.3 506.2L286.3 506.0L288.3 505.9L290.3 506.0L292.3 506.1L294.3 506.3L296.2 506.6L298.2 506.9L300.1 507.4L302.1 507.8L304.0 508.4L305.9 508.9L307.8 509.5L309.7 510.1L311.7 510.7L313.6 511.3L315.5 511.9L317.4 512.5L319.2 513.2L321.1 513.8L323.0 514.5L324.8 515.3L326.7 516.1L328.5 516.9L330.2 517.9L332.0 518.8L333.7 519.9L335.3 521.0L337.0 522.1L338.6 523.3L340.1 524.6L341.7 525.8L343.2 527.1L344.7 528.4L346.2 529.7L347.7 531.1L349.2 532.5L350.6 533.8L352.0 535.3L353.4 536.7L354.8 538.1L356.1 539.6L357.5 541.1L358.8 542.6L360.1 544.1L361.4 545.7L362.6 547.2L363.8 548.8L365.1 550.4L366.3 552.0L367.4 553.6L368.6 555.2L369.7 556.9L370.9 558.5L372.0 560.2L373.1 561.8L374.2 563.5L375.3 565.2L376.4 566.8L377.5 568.5L378.6 570.2L379.7 571.9L380.8 573.5L381.8 575.2L382.9 576.9L383.9 578.6L385.0 580.3L386.0 582.0L387.1 583.7L388.1 585.5L389.1 587.2L390.2 588.9L391.2 590.6L392.2 592.4L393.1 594.1L394.1 595.8L395.1 597.6L396.1 599.3L397.0 601.1L398.0 602.9L398.9 604.6L399.8 606.4L400.8 608.2L401.7 609.9L402.6 611.7L403.5 613.5L404.4 615.3L405.3 617.1L406.2 618.8L407.1 620.6L408.0 622.4L408.9 624.2L409.8 626.0L410.7 627.8L411.6 629.6L412.4 631.4L413.3 633.2L414.2 635.0L415.0 636.8L415.9 638.6L416.7 640.4L417.5 642.3L418.4 644.1L419.2 645.9L420.0 647.7L420.9 649.5L421.7 651.3L422.6 653.2L423.4 655.0L424.3 656.8L425.2 658.6L426.1 660.3L427.0 662.1L427.9 663.9L428.8 665.7L429.6 667.5L430.5 669.3L431.4 671.1L432.3 672.9L433.1 674.7L434.0 676.5L434.9 678.3L435.7 680.1L436.6 681.9L437.4 683.7L438.3 685.5L439.1 687.3L440.0 689.2L440.8 691.0L441.7 692.8L442.5 694.6L443.4 696.4L444.3 698.2L445.1 700.0L446.0 701.8L446.8 703.6L447.7 705.4L448.6 707.2L449.5 709.0L450.4 710.8L451.2 712.6L452.1 714.4L453.1 716.2L454.0 717.9L454.9 719.7L455.8 721.5L456.7 723.3L457.7 725.0L458.6 726.8L459.6 728.5L460.5 730.3L461.5 732.1L462.4 733.8L463.4 735.6L464.4 737.3L465.3 739.1L466.3 740.8L467.3 742.6L468.3 744.3L469.2 746.1L470.2 747.8L471.2 749.5L472.2 751.3L473.2 753.0L474.2 754.7L475.2 756.5L476.2 758.2L477.2 759.9L478.3 761.6L479.3 763.3L480.3 765.1L481.4 766.8L482.4 768.5L483.5 770.2L484.5 771.9L485.6 773.5L486.7 775.2L487.8 776.9L488.9 778.6L490.0 780.2L491.2 781.9L492.3 783.5L493.4 785.1L494.6 786.8L495.7 788.4L496.9 790.1L498.0 791.7L499.1 793.4L500.3 795.0L501.4 796.7L502.6 798.3L503.7 799.9L504.9 801.5L506.1 803.1L507.4 804.7L508.7 806.2L510.0 807.7L511.4 809.1L512.8 810.5L514.3 811.8L515.8 813.0L517.5 814.2L519.1 815.3L520.8 816.4L522.5 817.3L524.3 818.2L526.1 819.1L527.9 819.8L529.8 820.6L531.7 821.3L533.5 821.9L535.4 822.5L537.3 823.1L539.2 823.6L541.2 823.9L543.1 824.0L545.1 824.0L547.0 823.7L549.0 823.3L550.9 822.8L552.7 822.2L554.6 821.5L556.4 820.7L558.2 819.8L559.9 818.8L561.6 817.7L563.2 816.6L564.9 815.5L566.5 814.3L568.1 813.1L569.7 811.9L571.2 810.6L572.7 809.3L574.2 808.0L575.7 806.7L577.1 805.3L578.6 803.9L580.0 802.5L581.3 801.0L582.7 799.5L584.0 798.0L585.3 796.5L586.5 794.9L587.8 793.4L589.0 791.8L590.2 790.2L591.4 788.6L592.6 787.0L593.7 785.4L594.9 783.7L596.0 782.1L597.1 780.4L598.2 778.7L599.3 777.1L600.4 775.4L601.5 773.7L602.5 772.0L603.6 770.3L604.6 768.6L605.6 766.8L606.6 765.1L607.5 763.3L608.5 761.6L609.4 759.8L610.4 758.1L611.3 756.3L612.2 754.5L613.1 752.7L614.0 750.9L614.9 749.1L615.8 747.3L616.6 745.5L617.5 743.7L618.4 741.9L619.2 740.1L620.1 738.3L620.9 736.5L621.8 734.7L622.6 732.9L623.5 731.1L624.4 729.3L625.2 727.5L626.1 725.7L626.9 723.9L627.8 722.1L628.7 720.3L629.5 718.5L630.4 716.7L631.3 714.9L632.1 713.0L633.0 711.2L633.8 709.4L634.7 707.6L635.6 705.8L636.4 704.0L637.2 702.2L638.1 700.4L638.9 698.6L639.8 696.8L640.6 694.9L641.5 693.1L642.3 691.3L643.2 689.5L644.0 687.7L644.9 685.9L645.7 684.1L646.6 682.3L647.4 680.5L648.3 678.7L649.2 676.9L650.0 675.1L650.9 673.3L651.8 671.5L652.7 669.7L653.6 667.9L654.4 666.1L655.3 664.3L656.2 662.5L657.1 660.7L658.0 658.9L658.9 657.1L659.7 655.3L660.6 653.5L661.5 651.7L662.4 649.9L663.3 648.2L664.2 646.4L665.1 644.6L666.0 642.8L666.9 641.0L667.8 639.2L668.8 637.5L669.7 635.7L670.6 633.9L671.6 632.2L672.5 630.4L673.4 628.6L674.4 626.9L675.4 625.1L676.3 623.4L677.3 621.6L678.3 619.9L679.3 618.1L680.3 616.4L681.3 614.7L682.3 612.9L683.3 611.2L684.3 609.5L685.3 607.7L686.3 606.0L687.3 604.3L688.3 602.6L689.3 600.8L690.3 599.1L691.4 597.4L692.4 595.7L693.5 594.0L694.5 592.3L695.6 590.6L696.6 588.9L697.7 587.2L698.8 585.6L699.9 583.9L701.0 582.2L702.2 580.6L703.3 579.0L704.5 577.4L705.7 575.8L707.0 574.2L708.2 572.6L709.5 571.1L710.9 569.7L712.3 568.2L713.7 566.8L715.2 565.5L716.7 564.2L718.2 562.9L719.8 561.7L721.4 560.5L723.0 559.3L724.6 558.2L726.3 557.1L728.0 556.1L729.8 555.2L731.6 554.4L733.4 553.6L735.3 553.0L737.2 552.5L739.1 552.2L741.1 551.9L743.1 551.7L745.0 551.7L747.0 551.8L749.0 551.9L750.9 552.2L752.9 552.6L754.8 553.1L756.7 553.7L758.5 554.4L760.3 555.2L762.1 556.2L763.8 557.1L765.5 558.2L767.1 559.3L768.7 560.5L770.3 561.7L771.9 563.0L773.4 564.3L774.8 565.7L776.3 567.1L777.6 568.5L779.0 570.0L780.3 571.4L781.6 573.0L782.9 574.5L784.1 576.1L785.3 577.7L786.5 579.3L787.7 580.9L788.9 582.5L790.0 584.2L791.1 585.8L792.2 587.5L793.3 589.2L794.4 590.8L795.5 592.5L796.6 594.2L797.7 595.9L798.7 597.6L799.8 599.3L800.8 601.0L801.9 602.7L802.9 604.4L804.0 606.1L805.0 607.8L806.0 609.5L807.1 611.2L808.1 612.9L809.1 614.7L810.1 616.4L811.2 618.1L812.2 619.8L813.2 621.5L814.2 623.3L815.2 625.0L816.2 626.7L817.2 628.5L818.2 630.2L819.2 631.9L820.2 633.7L821.2 635.4L822.2 637.2L823.1 638.9L824.1 640.6L825.1 642.4L826.0 644.1L827.0 645.9L828.0 647.7L828.9 649.4L829.9 651.2L830.8 652.9L831.7 654.7L832.7 656.5L833.6 658.2L834.6 660.0L835.5 661.8L836.4 663.5L837.3 665.3L838.3 667.1L839.2 668.9L840.1 670.6L841.0 672.4L841.9 674.2L842.8 676.0L843.7 677.8L844.6 679.6L845.5 681.4L846.3 683.2L847.2 685.0L848.0 686.8L848.9 688.6L849.8 690.4L850.6 692.2L851.5 694.0L852.3 695.8L853.2 697.6L854.0 699.5L854.9 701.3L855.7 703.1L856.6 704.9L857.5 706.7L858.3 708.5L859.2 710.3L860.1 712.1L861.0 713.9L861.9 715.6L862.8 717.4L863.7 719.2L864.6 721.0L865.6 722.8L866.5 724.5L867.4 726.3L868.3 728.1L869.3 729.8L870.2 731.6L871.2 733.4L872.1 735.1L873.0 736.9L874.0 738.7L875.0 740.4L875.9 742.2L876.9 743.9L877.8 745.7L878.8 747.4L879.8 749.2L880.8 750.9L881.7 752.6L882.7 754.4L883.7 756.1L884.7 757.8L885.7 759.6L886.8 761.3L887.8 763.0L888.8 764.7L889.8 766.4L890.9 768.2L891.9 769.9L893.0 771.6L894.1 773.2L895.1 774.9L896.2 776.6L897.3 778.3L898.4 780.0L899.5 781.7L900.5 783.3L901.6 785.0L902.8 786.7L903.9 788.3L905.0 790.0L906.1 791.6L907.3 793.3L908.4 794.9L909.6 796.6L910.7 798.2L911.9 799.8L913.1 801.4L914.3 803.0L915.5 804.6L916.8 806.1L918.1 807.7L919.4 809.2L920.7 810.7L922.0 812.1L923.4 813.6L924.9 815.0L926.3 816.3L927.8 817.7L929.3 819.0L930.8 820.3L932.3 821.6L933.8 823.0L935.3 824.3L936.7 825.6L938.2 827.0L939.8 828.2L941.4 829.4L943.0 830.5L944.7 831.6L946.5 832.5L948.3 833.3L950.1 834.1L951.9 834.8L953.8 835.5L955.7 836.0L957.6 836.4L959.6 836.8L961.6 837.0L963.5 837.0L965.5 836.9L967.4 836.6L969.4 836.2L971.3 835.7L973.2 835.0L975.0 834.3L976.8 833.5L978.6 832.7L980.4 831.8L982.2 830.9L984.0 830.0L985.7 829.0L987.4 827.9L989.1 826.8L990.7 825.7L992.3 824.5L993.9 823.3L995.4 822.0L996.9 820.7L998.4 819.4L999.8 818.0L1001.3 816.6L1002.7 815.2L1004.0 813.7L1005.4 812.2L1006.7 810.7L1008.0 809.2L1009.2 807.7L1010.5 806.1L1011.8 804.5L1013.0 803.0L1014.2 801.4L1015.4 799.8L1016.6 798.2L1017.7 796.5L1018.9 794.9L1020.0 793.3L1021.2 791.6L1022.3 790.0L1023.5 788.4L1024.6 786.7L1025.8 785.1L1027.0 783.5L1028.1 781.8L1029.3 780.2L1030.5 778.6L1031.6 777.0L1032.8 775.3L1033.9 773.7L1035.0 772.0L1036.0 770.3L1037.1 768.6L1038.1 766.9L1039.2 765.2L1040.2 763.5L1041.2 761.7L1042.2 760.0L1043.2 758.3L1044.2 756.5L1045.2 754.8L1046.1 753.0L1047.1 751.3L1048.1 749.6L1049.1 747.8L1050.0 746.0L1051.0 744.3L1051.9 742.5L1052.9 740.8L1053.8 739.0L1054.8 737.3L1055.7 735.5L1056.7 733.7L1057.6 732.0L1058.5 730.2L1059.5 728.4L1060.4 726.7L1061.3 724.9L1062.3 723.1L1063.2 721.3L1064.1 719.6L1065.0 717.8L1065.9 716.0L1066.8 714.2L1067.7 712.4L1068.6 710.6L1069.5 708.8L1070.4 707.0L1071.3 705.2L1072.1 703.4L1073.0 701.6L1073.9 699.8L1074.7 698.0L1075.6 696.2L1076.5 694.4L1077.3 692.6L1078.2 690.8L1079.0 689.0L1079.9 687.2L1080.8 685.4L1081.6 683.6L1082.5 681.8L1083.4 680.0L1084.2 678.2L1085.1 676.4L1086.0 674.6L1086.9 672.8L1087.8 671.0L1088.7 669.2L1089.6 667.5L1090.5 665.7L1091.4 663.9L1092.3 662.1L1093.2 660.3L1094.1 658.5L1095.0 656.8L1095.9 655.0L1096.8 653.2L1097.7 651.4L1098.6 649.6L1099.5 647.8L1100.5 646.1L1101.4 644.3L1102.3 642.5L1103.2 640.7L1104.2 639.0L1105.1 637.2L1106.0 635.4L1107.0 633.7L1107.9 631.9L1108.9 630.2L1109.8 628.4L1110.8 626.6L1111.8 624.9L1112.7 623.2L1113.7 621.4L1114.7 619.7L1115.7 617.9L1116.7 616.2L1117.7 614.5L1118.7 612.7L1119.7 611.0L1120.7 609.3L1121.7 607.6L1122.7 605.8L1123.8 604.1L1124.8 602.4L1125.8 600.7L1126.8 599.0L1127.9 597.3L1128.9 595.6L1130.0 593.9L1131.0 592.2L1132.1 590.5L1133.2 588.8L1134.3 587.1L1135.4 585.4L1136.5 583.8L1137.6 582.1L1138.7 580.5L1139.9 578.8L1141.1 577.2L1142.3 575.6L1143.5 574.1L1144.8 572.5L1146.1 571.0L1147.4 569.5L1148.7 568.0L1150.1 566.6L1151.6 565.2L1153.0 563.9L1154.6 562.6L1156.1 561.3L1157.7 560.2L1159.4 559.0L1161.0 558.0L1162.7 556.9L1164.5 556.0L1166.3 555.1L1168.1 554.3L1169.9 553.6L1171.8 552.9L1173.7 552.3L1175.6 551.7L1177.5 551.4L1179.5 551.1L1181.4 551.1L1183.4 551.2L1185.3 551.5L1187.3 551.9L1189.2 552.5L1191.0 553.1L1192.9 553.8L1194.7 554.5L1196.5 555.3L1198.3 556.2L1200.1 557.2L1201.8 558.2L1203.4 559.3L1205.0 560.5L1206.6 561.7L1208.1 563.0L1209.5 564.4L1210.9 565.9L1212.2 567.3L1213.5 568.9L1214.8 570.4L1216.0 572.0L1217.2 573.5L1218.5 575.1L1219.7 576.7L1220.9 578.3L1222.1 579.9L1223.3 581.5L1224.4 583.1L1225.6 584.7L1226.8 586.4L1227.9 588.0L1229.1 589.6L1230.2 591.3L1231.4 592.9L1232.5 594.6L1233.6 596.2L1234.7 597.9L1235.9 599.5L1237.0 601.2L1238.1 602.9L1239.2 604.5L1240.3 606.2L1241.3 607.9L1242.4 609.6L1243.5 611.3L1244.6 613.0L1245.6 614.7L1246.7 616.4L1247.7 618.1L1248.7 619.8L1249.7 621.5L1250.7 623.2L1251.7 625.0L1252.7 626.7L1253.7 628.5L1254.7 630.2L1255.6 632.0L1256.6 633.7L1257.5 635.5L1258.4 637.3L1259.4 639.0L1260.3 640.8L1261.2 642.6L1262.1 644.4L1263.0 646.2L1263.9 647.9L1264.8 649.7L1265.7 651.5L1266.6 653.3L1267.5 655.1L1268.4 656.9L1269.3 658.7L1270.2 660.5L1271.1 662.2L1272.0 664.0L1272.9 665.8L1273.8 667.6L1274.7 669.4L1275.6 671.2L1276.5 673.0L1277.4 674.7L1278.3 676.5L1279.2 678.3L1280.1 680.1L1280.9 681.9L1281.8 683.7L1282.7 685.5L1283.6 687.3L1284.5 689.1L1285.3 690.9L1286.2 692.7L1287.1 694.5L1288.0 696.3L1288.8 698.1L1289.7 699.9L1290.6 701.7L1291.5 703.5L1292.4 705.3L1293.3 707.1L1294.2 708.8L1295.1 710.6L1296.0 712.4L1296.9 714.2L1297.8 716.0L1298.7 717.7L1299.7 719.5L1300.6 721.3L1301.5 723.1L1302.5 724.8L1303.4 726.6L1304.3 728.4L1305.3 730.1L1306.2 731.9L1307.1 733.7L1308.1 735.4L1309.0 737.2L1310.0 738.9L1310.9 740.7L1311.9 742.5L1312.8 744.2L1313.8 746.0L1314.8 747.7L1315.7 749.5L1316.7 751.2L1317.7 752.9L1318.7 754.7L1319.7 756.4L1320.7 758.1L1321.8 759.8L1322.8 761.6L1323.8 763.3L1324.9 765.0L1326.0 766.6L1327.0 768.3L1328.1 770.0L1329.2 771.7L1330.3 773.4L1331.4 775.0L1332.5 776.7L1333.6 778.4L1334.7 780.1L1335.8 781.7L1336.9 783.4L1338.0 785.1L1339.1 786.7L1340.2 788.4L1341.4 790.0L1342.6 791.6L1343.7 793.2L1344.9 794.8L1346.2 796.4L1347.4 798.0L1348.7 799.5L1350.0 801.1L1351.3 802.5L1352.7 804.0L1354.1 805.4L1355.5 806.8L1357.0 808.1L1358.5 809.4L1360.1 810.6L1361.7 811.8L1363.3 813.0L1365.0 814.1L1366.7 815.1L1368.4 816.1L1370.1 817.1L1371.9 818.0L1373.7 818.9L1375.5 819.8L1377.3 820.5L1379.2 821.2L1381.0 821.9L1382.9 822.5L1384.9 823.0L1386.8 823.4L1388.7 823.7L1390.7 823.8L1392.7 823.8L1394.6 823.6L1396.6 823.3L1398.5 822.7L1400.3 822.1L1402.1 821.3L1403.9 820.4L1405.7 819.5L1407.4 818.6L1409.2 817.7L1410.9 816.7L1412.7 815.7L1414.3 814.6L1416.0 813.5L1417.6 812.3L1419.2 811.2L1420.9 810.0L1422.5 808.8L1424.1 807.6L1425.5 806.6" stroke="#2f4a9a"/>
<path d="M207.5 430.3L208.7 424.6L209.9 418.8L211.2 413.0L212.4 407.3L213.6 401.5L214.8 395.8L216.0 390.0L217.2 384.3L218.5 378.6L219.7 372.9L220.9 367.3L222.1 361.6L223.3 356.0L224.6 350.4L225.8 344.8L227.0 339.3L228.2 333.7L229.4 328.2L230.6 322.8L231.9 317.4L233.1 312.0L234.3 306.6L235.5 301.3L236.7 296.1L237.9 290.9L239.2 285.7L240.4 280.6L241.6 275.5L242.8 270.4L244.0 265.5L245.3 260.5L246.5 255.7L247.7 250.9L248.9 246.1L250.1 241.4L251.3 236.8L252.6 232.2L253.8 227.7L255.0 223.3L256.2 218.9L257.4 214.6L258.7 210.4L259.9 206.2L261.1 202.1L262.3 198.1L263.5 194.1L264.7 190.3L266.0 186.5L267.2 182.8L268.4 179.1L269.6 175.6L270.8 172.1L272.1 168.8L273.3 165.5L274.5 162.2L275.7 159.1L276.9 156.1L278.1 153.1L279.4 150.3L280.6 147.5L281.8 144.8L283.0 142.3L284.2 139.8L285.5 137.4L286.7 135.1L287.9 132.9L289.1 130.8L290.3 128.8L291.5 126.8L292.8 125.0L294.0 123.3L295.2 121.7L296.4 120.2L297.6 118.8L298.9 117.5L300.1 116.2L301.3 115.1L302.5 114.1L303.7 113.2L304.9 112.4L306.2 111.7L307.4 111.1L308.6 110.6L309.8 110.2L311.0 109.9L312.2 109.7L313.5 109.7L314.7 109.7L315.9 109.8L317.1 110.1L318.3 110.4L319.6 110.8L320.8 111.4L322.0 112.0L323.2 112.8L324.4 113.6L325.6 114.6L326.9 115.6L328.1 116.8L329.3 118.1L330.5 119.4L331.7 120.9L333.0 122.4L334.2 124.1L335.4 125.9L336.6 127.7L337.8 129.7L339.0 131.7L340.3 133.9L341.5 136.1L342.7 138.5L343.9 140.9L345.1 143.5L346.4 146.1L347.6 148.8L348.8 151.6L350.0 154.5L351.2 157.5L352.4 160.6L353.7 163.7L354.9 167.0L356.1 170.3L357.3 173.7L358.5 177.2L359.8 180.8L361.0 184.5L362.2 188.2L363.4 192.1L364.6 196.0L365.8 199.9L367.1 204.0L368.3 208.1L369.5 212.3L370.7 216.6L371.9 220.9L373.1 225.3L374.4 229.8L375.6 234.3L376.8 238.9L378.0 243.6L379.2 248.3L380.5 253.1L381.7 257.9L382.9 262.8L384.1 267.8L385.3 272.8L386.5 277.8L387.8 282.9L389.0 288.1L390.2 293.3L391.4 298.5L392.6 303.8L393.9 309.1L395.1 314.5L396.3 319.9L397.5 325.3L398.7 330.8L399.9 336.3L401.2 341.8L402.4 347.4L403.6 353.0L404.8 358.6L406.0 364.2L407.3 369.9L408.5 375.6L409.7 381.3L410.9 387.0L412.1 392.7L413.3 398.5L414.6 404.2L415.8 410.0L417.0 415.7L418.2 421.5L419.4 427.3L420.6 433.0L421.9 438.8L423.1 444.6L424.3 450.3L425.5 456.1L426.7 461.8L428.0 467.6L429.2 473.3L430.4 479.0L431.6 484.7L432.8 490.4L434.0 496.1L435.3 501.7L436.5 507.3L437.7 512.9L438.9 518.5L440.1 524.0L441.4 529.5L442.6 535.0L443.8 540.4L445.0 545.8L446.2 551.2L447.4 556.5L448.7 561.8L449.9 567.0L451.1 572.2L452.3 577.4L453.5 582.5L454.8 587.5L456.0 592.6L457.2 597.5L458.4 602.4L459.6 607.2L460.8 612.0L462.1 616.8L463.3 621.4L464.5 626.0L465.7 630.6L466.9 635.0L468.2 639.5L469.4 643.8L470.6 648.1L471.8 652.3L473.0 656.4L474.2 660.5L475.5 664.4L476.7 668.3L477.9 672.2L479.1 675.9L480.3 679.6L481.6 683.2L482.8 686.7L484.0 690.1L485.2 693.5L486.4 696.7L487.6 699.9L488.9 703.0L490.1 706.0L491.3 708.9L492.5 711.7L493.7 714.4L494.9 717.0L496.2 719.6L497.4 722.0L498.6 724.4L499.8 726.6L501.0 728.8L502.3 730.9L503.5 732.8L504.7 734.7L505.9 736.5L507.1 738.1L508.3 739.7L509.6 741.2L510.8 742.5L512.0 743.8L513.2 745.0L514.4 746.0L515.7 747.0L516.9 747.8L518.1 748.6L519.3 749.3L520.5 749.8L521.7 750.3L523.0 750.6L524.2 750.8L525.4 751.0L526.6 751.0L527.8 750.9L529.1 750.7L530.3 750.5L531.5 750.1L532.7 749.6L533.9 749.0L535.1 748.3L536.4 747.5L537.6 746.6L538.8 745.6L540.0 744.5L541.2 743.3L542.5 742.0L543.7 740.6L544.9 739.1L546.1 737.5L547.3 735.8L548.5 733.9L549.8 732.0L551.0 730.0L552.2 727.9L553.4 725.7L554.6 723.4L555.8 721.1L557.1 718.6L558.3 716.0L559.5 713.3L560.7 710.6L561.9 707.7L563.2 704.8L564.4 701.7L565.6 698.6L566.8 695.4L568.0 692.1L569.2 688.8L570.5 685.3L571.7 681.8L572.9 678.1L574.1 674.4L575.3 670.6L576.6 666.8L577.8 662.8L579.0 658.8L580.2 654.8L581.4 650.6L582.6 646.4L583.9 642.1L585.1 637.7L586.3 633.3L587.5 628.8L588.7 624.2L590.0 619.6L591.2 614.9L592.4 610.1L593.6 605.3L594.8 600.4L596.0 595.5L597.3 590.6L598.5 585.5L599.7 580.5L600.9 575.3L602.1 570.2L603.4 564.9L604.6 559.7L605.8 554.4L607.0 549.0L608.2 543.7L609.4 538.2L610.7 532.8L611.9 527.3L613.1 521.8L614.3 516.2L615.5 510.7L616.7 505.1L618.0 499.4L619.2 493.8L620.4 488.1L621.6 482.4L622.8 476.7L624.1 471.0L625.3 465.3L626.5 459.5L627.7 453.8L628.9 448.0L630.1 442.3L631.4 436.5L632.6 430.7L633.8 424.9L635.0 419.2L636.2 413.4L637.5 407.6L638.7 401.9L639.9 396.1L641.1 390.4L642.3 384.7L643.5 379.0L644.8 373.3L646.0 367.6L647.2 362.0L648.4 356.4L649.6 350.7L650.9 345.2L652.1 339.6L653.3 334.1L654.5 328.6L655.7 323.1L656.9 317.7L658.2 312.3L659.4 307.0L660.6 301.7L661.8 296.4L663.0 291.2L664.2 286.0L665.5 280.9L666.7 275.8L667.9 270.8L669.1 265.8L670.3 260.9L671.6 256.0L672.8 251.2L674.0 246.4L675.2 241.7L676.4 237.1L677.6 232.5L678.9 228.0L680.1 223.6L681.3 219.2L682.5 214.9L683.7 210.6L685.0 206.5L686.2 202.4L687.4 198.3L688.6 194.4L689.8 190.5L691.0 186.7L692.3 183.0L693.5 179.4L694.7 175.8L695.9 172.4L697.1 169.0L698.4 165.7L699.6 162.5L700.8 159.3L702.0 156.3L703.2 153.3L704.4 150.5L705.7 147.7L706.9 145.0L708.1 142.4L709.3 139.9L710.5 137.5L711.8 135.2L713.0 133.0L714.2 130.9L715.4 128.9L716.6 127.0L717.8 125.1L719.1 123.4L720.3 121.8L721.5 120.3L722.7 118.9L723.9 117.5L725.1 116.3L726.4 115.2L727.6 114.2L728.8 113.3L730.0 112.5L731.2 111.7L732.5 111.1L733.7 110.6L734.9 110.2L736.1 109.9L737.3 109.8L738.5 109.7L739.8 109.7L741.0 109.8L742.2 110.0L743.4 110.4L744.6 110.8L745.9 111.3L747.1 112.0L748.3 112.7L749.5 113.6L750.7 114.5L751.9 115.6L753.2 116.7L754.4 118.0L755.6 119.3L756.8 120.8L758.0 122.3L759.3 124.0L760.5 125.7L761.7 127.6L762.9 129.6L764.1 131.6L765.3 133.7L766.6 136.0L767.8 138.3L769.0 140.8L770.2 143.3L771.4 145.9L772.7 148.6L773.9 151.4L775.1 154.3L776.3 157.3L777.5 160.4L778.7 163.5L780.0 166.8L781.2 170.1L782.4 173.5L783.6 177.0L784.8 180.6L786.0 184.3L787.3 188.0L788.5 191.8L789.7 195.7L790.9 199.7L792.1 203.7L793.4 207.8L794.6 212.0L795.8 216.3L797.0 220.6L798.2 225.0L799.4 229.5L800.7 234.0L801.9 238.6L803.1 243.3L804.3 248.0L805.5 252.8L806.8 257.6L808.0 262.5L809.2 267.5L810.4 272.5L811.6 277.5L812.8 282.6L814.1 287.8L815.3 292.9L816.5 298.2L817.7 303.5L818.9 308.8L820.2 314.1L821.4 319.5L822.6 325.0L823.8 330.4L825.0 335.9L826.2 341.5L827.5 347.0L828.7 352.6L829.9 358.2L831.1 363.9L832.3 369.5L833.6 375.2L834.8 380.9L836.0 386.6L837.2 392.3L838.4 398.1L839.6 403.8L840.9 409.6L842.1 415.3L843.3 421.1L844.5 426.9L845.7 432.6L847.0 438.4L848.2 444.2L849.4 450.0L850.6 455.7L851.8 461.5L853.0 467.2L854.3 472.9L855.5 478.6L856.7 484.3L857.9 490.0L859.1 495.7L860.3 501.3L861.6 506.9L862.8 512.5L864.0 518.1L865.2 523.6L866.4 529.1L867.7 534.6L868.9 540.1L870.1 545.5L871.3 550.8L872.5 556.2L873.7 561.4L875.0 566.7L876.2 571.9L877.4 577.0L878.6 582.2L879.8 587.2L881.1 592.2L882.3 597.2L883.5 602.1L884.7 606.9L885.9 611.7L887.1 616.4L888.4 621.1L889.6 625.7L890.8 630.3L892.0 634.8L893.2 639.2L894.5 643.5L895.7 647.8L896.9 652.0L898.1 656.1L899.3 660.2L900.5 664.2L901.8 668.1L903.0 671.9L904.2 675.7L905.4 679.4L906.6 683.0L907.9 686.5L909.1 689.9L910.3 693.2L911.5 696.5L912.7 699.7L913.9 702.8L915.2 705.8L916.4 708.7L917.6 711.5L918.8 714.2L920.0 716.9L921.2 719.4L922.5 721.9L923.7 724.2L924.9 726.5L926.1 728.6L927.3 730.7L928.6 732.7L929.8 734.6L931.0 736.3L932.2 738.0L933.4 739.6L934.6 741.1L935.9 742.4L937.1 743.7L938.3 744.9L939.5 746.0L940.7 746.9L942.0 747.8L943.2 748.6L944.4 749.2L945.6 749.8L946.8 750.2L948.0 750.6L949.3 750.8L950.5 751.0L951.7 751.0L952.9 750.9L954.1 750.8L955.4 750.5L956.6 750.1L957.8 749.6L959.0 749.0L960.2 748.4L961.4 747.6L962.7 746.7L963.9 745.7L965.1 744.6L966.3 743.4L967.5 742.1L968.8 740.7L970.0 739.2L971.2 737.6L972.4 735.9L973.6 734.1L974.8 732.2L976.1 730.2L977.3 728.1L978.5 725.9L979.7 723.6L980.9 721.2L982.1 718.7L983.4 716.2L984.6 713.5L985.8 710.8L987.0 707.9L988.2 705.0L989.5 701.9L990.7 698.8L991.9 695.6L993.1 692.4L994.3 689.0L995.5 685.5L996.8 682.0L998.0 678.4L999.2 674.7L1000.4 670.9L1001.6 667.0L1002.9 663.1L1004.1 659.1L1005.3 655.0L1006.5 650.9L1007.7 646.6L1008.9 642.3L1010.2 638.0L1011.4 633.6L1012.6 629.1L1013.8 624.5L1015.0 619.9L1016.3 615.2L1017.5 610.4L1018.7 605.6L1019.9 600.8L1021.1 595.9L1022.3 590.9L1023.6 585.9L1024.8 580.8L1026.0 575.7L1027.2 570.5L1028.4 565.3L1029.7 560.0L1030.9 554.7L1032.1 549.4L1033.3 544.0L1034.5 538.6L1035.7 533.1L1037.0 527.7L1038.2 522.1L1039.4 516.6L1040.6 511.0L1041.8 505.4L1043.0 499.8L1044.3 494.2L1045.5 488.5L1046.7 482.8L1047.9 477.1L1049.1 471.4L1050.4 465.7L1051.6 459.9L1052.8 454.2L1054.0 448.4L1055.2 442.6L1056.4 436.9L1057.7 431.1L1058.9 425.3L1060.1 419.6L1061.3 413.8L1062.5 408.0L1063.8 402.3L1065.0 396.5L1066.2 390.8L1067.4 385.1L1068.6 379.4L1069.8 373.7L1071.1 368.0L1072.3 362.3L1073.5 356.7L1074.7 351.1L1075.9 345.5L1077.2 340.0L1078.4 334.5L1079.6 329.0L1080.8 323.5L1082.0 318.1L1083.2 312.7L1084.5 307.3L1085.7 302.0L1086.9 296.8L1088.1 291.5L1089.3 286.4L1090.5 281.2L1091.8 276.1L1093.0 271.1L1094.2 266.1L1095.4 261.2L1096.6 256.3L1097.9 251.5L1099.1 246.7L1100.3 242.0L1101.5 237.4L1102.7 232.8L1103.9 228.3L1105.2 223.8L1106.4 219.5L1107.6 215.1L1108.8 210.9L1110.0 206.7L1111.3 202.6L1112.5 198.6L1113.7 194.7L1114.9 190.8L1116.1 187.0L1117.3 183.3L1118.6 179.6L1119.8 176.1L1121.0 172.6L1122.2 169.2L1123.4 165.9L1124.7 162.7L1125.9 159.5L1127.1 156.5L1128.3 153.5L1129.5 150.7L1130.7 147.9L1132.0 145.2L1133.2 142.6L1134.4 140.1L1135.6 137.7L1136.8 135.4L1138.1 133.2L1139.3 131.0L1140.5 129.0L1141.7 127.1L1142.9 125.3L1144.1 123.5L1145.4 121.9L1146.6 120.4L1147.8 118.9L1149.0 117.6L1150.2 116.4L1151.5 115.3L1152.7 114.2L1153.9 113.3L1155.1 112.5L1156.3 111.8L1157.5 111.2L1158.8 110.7L1160.0 110.3L1161.2 110.0L1162.4 109.8L1163.6 109.7L1164.8 109.7L1166.1 109.8L1167.3 110.0L1168.5 110.3L1169.7 110.8L1170.9 111.3L1172.2 111.9L1173.4 112.7L1174.6 113.5L1175.8 114.4L1177.0 115.5L1178.2 116.6L1179.5 117.9L1180.7 119.2L1181.9 120.7L1183.1 122.2L1184.3 123.9L1185.6 125.6L1186.8 127.5L1188.0 129.4L1189.2 131.5L1190.4 133.6L1191.6 135.8L1192.9 138.2L1194.1 140.6L1195.3 143.1L1196.5 145.7L1197.7 148.4L1199.0 151.2L1200.2 154.1L1201.4 157.1L1202.6 160.2L1203.8 163.3L1205.0 166.6L1206.3 169.9L1207.5 173.3L1208.7 176.8L1209.9 180.4L1211.1 184.0L1212.3 187.7L1213.6 191.6L1214.8 195.5L1216.0 199.4L1217.2 203.5L1218.4 207.6L1219.7 211.8L1220.9 216.0L1222.1 220.3L1223.3 224.7L1224.5 229.2L1225.7 233.7L1227.0 238.3L1228.2 243.0L1229.4 247.7L1230.6 252.5L1231.8 257.3L1233.1 262.2L1234.3 267.1L1235.5 272.1L1236.7 277.2L1237.9 282.3L1239.1 287.4L1240.4 292.6L1241.6 297.8L1242.8 303.1L1244.0 308.4L1245.2 313.8L1246.5 319.2L1247.7 324.6L1248.9 330.1L1250.1 335.6L1251.3 341.1L1252.5 346.7L1253.8 352.3L1255.0 357.9L1256.2 363.5L1257.4 369.2L1258.6 374.8L1259.9 380.5L1261.1 386.2L1262.3 392.0L1263.5 397.7L1264.7 403.4L1265.9 409.2L1267.2 415.0L1268.4 420.7L1269.6 426.5L1270.8 432.3L1272.0 438.0L1273.2 443.8L1274.5 449.6L1275.7 455.3L1276.9 461.1L1278.1 466.8L1279.3 472.6L1280.6 478.3L1281.8 484.0L1283.0 489.6L1284.2 495.3L1285.4 500.9L1286.6 506.6L1287.9 512.2L1289.1 517.7L1290.3 523.3L1291.5 528.8L1292.7 534.3L1294.0 539.7L1295.2 545.1L1296.4 550.5L1297.6 555.8L1298.8 561.1L1300.0 566.3L1301.3 571.6L1302.5 576.7L1303.7 581.8L1304.9 586.9L1306.1 591.9L1307.4 596.9L1308.6 601.8L1309.8 606.6L1311.0 611.4L1312.2 616.1L1313.4 620.8L1314.7 625.4L1315.9 630.0L1317.1 634.5L1318.3 638.9L1319.5 643.2L1320.8 647.5L1322.0 651.7L1323.2 655.9L1324.4 659.9L1325.6 663.9L1326.8 667.8L1328.1 671.7L1329.3 675.4L1330.5 679.1L1331.7 682.7L1332.9 686.2L1334.2 689.7L1335.4 693.0L1336.6 696.3L1337.8 699.5L1339.0 702.6L1340.2 705.6L1341.5 708.5L1342.7 711.3L1343.9 714.1L1345.1 716.7L1346.3 719.2L1347.5 721.7L1348.8 724.1L1350.0 726.3L1351.2 728.5L1352.4 730.6L1353.6 732.6L1354.9 734.4L1356.1 736.2L1357.3 737.9L1358.5 739.5L1359.7 741.0L1360.9 742.4L1362.2 743.6L1363.4 744.8L1364.6 745.9L1365.8 746.9L1367.0 747.7L1368.3 748.5L1369.5 749.2L1370.7 749.7L1371.9 750.2L1373.1 750.6L1374.3 750.8L1375.6 751.0L1376.8 751.0L1378.0 750.9L1379.2 750.8L1380.4 750.5L1381.7 750.1L1382.9 749.7L1384.1 749.1L1385.3 748.4L1386.5 747.6L1387.7 746.7L1389.0 745.7L1390.2 744.7L1391.4 743.5L1392.6 742.2L1393.8 740.8L1395.0 739.3L1396.3 737.7L1397.5 736.0L1398.7 734.2L1399.9 732.3L1401.1 730.3L1402.4 728.2L1403.6 726.0L1404.8 723.7L1406.0 721.4L1407.2 718.9L1408.4 716.3L1409.7 713.7L1410.9 710.9L1412.1 708.1L1413.3 705.2L1414.5 702.1L1415.8 699.0L1417.0 695.8L1418.2 692.6L1419.4 689.2L1420.6 685.8L1421.8 682.2L1423.1 678.6L1424.3 674.9L1425.5 671.1" stroke="#682c86" stroke-dasharray="28.4 16.48"/>
<path d="M207.5 149.8L208.1 157.7L208.7 165.6L209.3 173.4L209.9 181.2L210.5 188.8L211.2 196.4L211.8 203.9L212.4 211.4L213.0 218.7L213.6 226.0L214.2 233.3L214.8 240.4L215.4 247.5L216.0 254.5L216.6 261.4L217.2 268.3L217.9 275.1L218.5 281.8L219.1 288.5L219.7 295.1L220.3 301.6L220.9 308.1L221.5 314.5L222.1 320.8L222.7 327.1L223.3 333.3L223.9 339.4L224.6 345.5L225.2 351.6L225.8 357.5L226.4 363.4L227.0 369.3L227.6 375.1L228.2 380.8L228.8 386.5L229.4 392.1L230.0 397.7L230.6 403.2L231.3 408.6L231.9 414.0L232.5 419.4L233.1 424.7L233.7 429.9L234.3 435.1L234.9 440.3L235.5 445.3L236.1 450.4L236.7 455.4L237.3 460.3L237.9 465.2L238.6 470.0L239.2 474.8L239.8 479.6L240.4 484.2L241.0 488.9L241.6 493.5L242.2 498.1L242.8 502.6L243.4 507.0L244.0 511.5L244.6 515.8L245.3 520.2L245.9 524.5L246.5 528.7L247.1 532.9L247.7 537.1L248.3 541.2L248.9 545.3L249.5 549.3L250.1 553.3L250.7 557.3L251.3 561.2L252.0 565.1L252.6 568.9L253.2 572.7L253.8 576.5L254.4 580.2L255.0 583.9L255.6 587.6L256.2 591.2L256.8 594.8L257.4 598.3L258.0 601.9L258.7 605.3L259.3 608.8L259.9 612.2L260.5 615.6L261.1 618.9L261.7 622.2L262.3 625.5L262.9 628.7L263.5 631.9L264.1 635.1L264.7 638.3L265.4 641.4L266.0 644.5L266.6 647.5L267.2 650.5L267.8 653.5L268.4 656.5L269.0 659.4L269.6 662.3L270.2 665.2L270.8 668.1L271.4 670.9L272.1 673.7L272.7 676.4L273.3 679.2L273.9 681.9L274.5 684.6L275.1 687.2L275.7 689.8L276.3 692.5L276.9 695.0L277.5 697.6L278.1 700.1L278.8 702.6L279.4 705.1L280.0 707.5L280.6 710.0L281.2 712.4L281.8 714.7L282.4 717.1L283.0 719.4L283.6 721.7L284.2 724.0L284.8 726.3L285.5 728.5L286.1 730.7L286.7 732.9L287.3 735.1L287.9 737.3L288.5 739.4L289.1 741.5L289.7 743.6L290.3 745.7L290.9 747.7L291.5 749.7L292.2 751.7L292.8 753.7L293.4 755.7L294.0 757.6L294.6 759.6L295.2 761.5L295.8 763.4L296.4 765.2L297.0 767.1L297.6 768.9L298.2 770.7L298.9 772.5L299.5 774.3L300.1 776.1L300.7 777.8L301.3 779.6L301.9 781.3L302.5 783.0L303.1 784.6L303.7 786.3L304.3 787.9L304.9 789.6L305.5 791.2L306.2 792.8L306.8 794.3L307.4 795.9L308.0 797.5L308.6 799.0L309.2 800.5L309.8 802.0L310.4 803.5L311.0 805.0L311.6 806.4L312.2 807.9L312.9 809.3L313.5 810.7L314.1 812.1L314.7 813.5L315.3 814.9L315.9 816.2L316.5 817.6L317.1 818.9L317.7 820.2L318.3 821.5L318.9 822.8L319.6 824.1L320.2 825.4L320.8 826.6L321.4 827.9L322.0 829.1L322.6 830.3L323.2 831.5L323.8 832.7L324.4 833.9L325.0 835.1L325.6 836.2L326.3 837.4L326.9 838.5L327.5 839.6L328.1 840.7L328.7 841.8L329.3 842.9L329.9 844.0L330.5 845.1L331.1 846.1L331.7 847.2L332.3 848.2L333.0 849.2L333.6 850.3L334.2 851.3L334.8 852.3L335.4 853.2L336.0 854.2L336.6 855.2L337.2 856.1L337.8 857.1L338.4 858.0L339.0 859.0L339.7 859.9L340.3 860.8L340.9 861.7L341.5 862.6L342.1 863.5L342.7 864.3L343.3 865.2L343.9 866.1L344.5 866.9L345.1 867.8L345.7 868.6L346.4 869.4L347.0 870.2L347.6 871.0L348.2 871.8L348.8 872.6L349.4 873.4L350.0 874.2L350.6 875.0L351.2 875.7L351.8 876.5L352.4 877.2L353.1 878.0L353.7 878.7L354.3 879.4L354.9 880.1L355.5 880.8L356.1 881.5L356.7 882.2L357.3 882.9L357.9 883.6L358.5 884.3L359.1 885.0L359.8 885.6L360.4 886.3L361.0 886.9L361.6 887.6L362.2 888.2L362.8 888.8L363.4 889.4L364.0 890.1L364.6 890.7L365.2 891.3L365.8 891.9L366.4 892.5L367.1 893.1L367.7 893.6L368.3 894.2L368.9 894.8L369.5 895.3L370.1 895.9L370.7 896.5L371.3 897.0L371.9 897.5L372.5 898.1L373.1 898.6L373.8 899.1L374.4 899.7L375.0 900.2L375.6 900.7L376.2 901.2L376.8 901.7L377.4 902.2L378.0 902.7L378.6 903.2L379.2 903.6L379.8 904.1L380.5 904.6L381.1 905.0L381.7 905.5L382.3 906.0L382.9 906.4L383.5 906.9L384.1 907.3L384.7 907.7L385.3 908.2L385.9 908.6L386.5 909.0L387.2 909.5L387.8 909.9L388.4 910.3L389.0 910.7L389.6 911.1L390.2 911.5L390.8 911.9L391.4 912.3L392.0 912.7L392.6 913.1L393.2 913.5L393.9 913.8L394.5 914.2L395.1 914.6L395.7 914.9L396.3 915.3L396.9 915.7L397.5 916.0L398.1 916.4L398.7 916.7L399.3 917.1L399.9 917.4L400.6 917.7L401.2 918.1L401.8 918.4L402.4 918.7L403.0 919.1L403.6 919.4L404.2 919.7L404.8 920.0L405.4 920.3L406.0 920.6L406.6 920.9L407.3 921.3L407.9 921.6L408.5 921.8L409.1 922.1L409.7 922.4L410.3 922.7L410.9 923.0L411.5 923.3L412.1 923.6L412.7 923.8L413.3 924.1L414.0 924.4L414.6 924.7L415.2 924.9L415.8 925.2L416.4 925.5L417.0 925.7L417.6 926.0L418.2 926.2L418.8 926.5L419.4 926.7L420.0 927.0L420.6 927.2L421.3 927.4L421.9 927.7L422.5 927.9L423.1 928.2L423.7 928.4L424.3 928.6L424.9 928.8L425.5 929.1L426.1 929.3L426.7 929.5L427.3 929.7L428.0 929.9L428.6 930.2L429.2 930.4L429.8 930.6L430.4 930.8L431.0 931.0L431.6 931.2L432.2 931.4L432.8 931.6L433.4 931.8L434.0 932.0L434.7 932.2L435.3 932.4L435.9 932.6L436.5 932.8L437.1 932.9L437.7 933.1L438.3 933.3L438.9 933.5L439.5 933.7L440.1 933.8L440.7 934.0L441.4 934.2L442.0 934.4L442.6 934.5L443.2 934.7L443.8 934.9L444.4 935.0L445.0 935.2L445.6 935.4L446.2 935.5L446.8 935.7L447.4 935.8L448.1 936.0L448.7 936.1L449.3 936.3L449.9 936.4L450.5 936.6L451.1 936.7L451.7 936.9L452.3 937.0L452.9 937.2L453.5 937.3L454.1 937.4L454.8 937.6L455.4 937.7L456.0 937.9L456.6 938.0L457.2 938.1L457.8 938.3L458.4 938.4L459.0 938.5L459.6 938.7L460.2 938.8L460.8 938.9L461.5 939.0L462.1 939.2L462.7 939.3L463.3 939.4L463.9 939.5L464.5 939.6L465.1 939.8L465.7 939.9L466.3 940.0L466.9 940.1L467.5 940.2L468.2 940.3L468.8 940.4L469.4 940.5L470.0 940.6L470.6 940.8L471.2 940.9L471.8 941.0L472.4 941.1L473.0 941.2L473.6 941.3L474.2 941.4L474.9 941.5L475.5 941.6L476.1 941.7L476.7 941.8L477.3 941.9L477.9 942.0L478.5 942.1L479.1 942.1L479.7 942.2L480.3 942.3L480.9 942.4L481.6 942.5L482.2 942.6L482.8 942.7L483.4 942.8L484.0 942.9L484.6 942.9L485.2 943.0L485.8 943.1L486.4 943.2L487.0 943.3L487.6 943.4L488.2 943.4L488.9 943.5L489.5 943.6L490.1 943.7L490.7 943.8L491.3 943.8L491.9 943.9L492.5 944.0L493.1 944.1L493.7 944.1L494.3 944.2L494.9 944.3L495.6 944.3L496.2 944.4L496.8 944.5L497.4 944.5L498.0 944.6L498.6 944.7L499.2 944.8L499.8 944.8L500.4 944.9L501.0 944.9L501.6 945.0L502.3 945.1L502.9 945.1L503.5 945.2L504.1 945.3L504.7 945.3L505.3 945.4L505.9 945.4L506.5 945.5L507.1 945.6L507.7 945.6L508.3 945.7L509.0 945.7L509.6 945.8L510.2 945.9L510.8 945.9L511.4 946.0L512.0 946.0L512.6 946.1L513.2 946.1L513.8 946.2L514.4 946.2L515.0 946.3L515.7 946.3L516.3 946.4L516.9 946.4L517.5 946.5L518.1 946.5L518.7 946.6L519.3 946.6L519.9 946.7L520.5 946.7L521.1 946.8L521.7 946.8L522.4 946.9L523.0 946.9L523.6 946.9L524.2 947.0L524.8 947.0L525.4 947.1L526.0 947.1L526.6 947.2L527.2 947.2L527.8 947.3L528.4 947.3L529.1 947.3L529.7 947.4L530.3 947.4L530.9 947.5L531.5 947.5L532.1 947.5L532.7 947.6L533.3 947.6L533.9 947.6L534.5 947.7L535.1 947.7L535.8 947.8L536.4 947.8L537.0 947.8L537.6 947.9L538.2 947.9L538.8 947.9L539.4 948.0L540.0 948.0L540.6 948.0L541.2 948.1L541.8 948.1L542.5 948.1L543.1 948.2L543.7 948.2L544.3 948.2L544.9 948.3L545.5 948.3L546.1 948.3L546.7 948.4L547.3 948.4L547.9 948.4L548.5 948.5L549.1 948.5L549.8 948.5L550.4 948.5L551.0 948.6L551.6 948.6L552.2 948.6L552.8 948.7L553.4 948.7L554.0 948.7L554.6 948.7L555.2 948.8L555.8 948.8L556.5 948.8L557.1 948.8L557.7 948.9L558.3 948.9L558.9 948.9L559.5 948.9L560.1 949.0L560.7 949.0L561.3 949.0L561.9 949.0L562.5 949.1L563.2 949.1L563.8 949.1L564.4 949.1L565.0 949.2L565.6 949.2L566.2 949.2L566.8 949.2L567.4 949.2L568.0 949.3L568.6 949.3L569.2 949.3L569.9 949.3L570.5 949.3L571.1 949.4L571.7 949.4L572.3 949.4L572.9 949.4L573.5 949.4L574.1 949.5L574.7 949.5L575.3 949.5L575.9 949.5L576.6 949.5L577.2 949.6L577.8 949.6L578.4 949.6L579.0 949.6L579.6 949.6L580.2 949.7L580.8 949.7L581.4 949.7L582.0 949.7L582.6 949.7L583.3 949.7L583.9 949.8L584.5 949.8L585.1 949.8L585.7 949.8L586.3 949.8L586.9 949.8L587.5 949.9L588.1 949.9L588.7 949.9L589.3 949.9L590.0 949.9L590.6 949.9L591.2 949.9L591.8 950.0L592.4 950.0L593.0 950.0L593.6 950.0L594.2 950.0L594.8 950.0L595.4 950.0L596.0 950.1L596.7 950.1L597.3 950.1L597.9 950.1L598.5 950.1L599.1 950.1L599.7 950.1L600.3 950.1L600.9 950.2L601.5 950.2L602.1 950.2L602.7 950.2L603.4 950.2L604.0 950.2L604.6 950.2L605.2 950.2L605.8 950.3L606.4 950.3L607.0 950.3L607.6 950.3L608.2 950.3L608.8 950.3L609.4 950.3L610.0 950.3L610.7 950.3L611.3 950.4L611.9 950.4L612.5 950.4L613.1 950.4L613.7 950.4L614.3 950.4L614.9 950.4L615.5 950.4L616.1 950.4L616.7 950.4L617.4 950.5L618.0 950.5L618.6 950.5L619.2 950.5L619.8 950.5L620.4 950.5L621.0 950.5L621.6 950.5L622.2 950.5L622.8 950.5L623.4 950.6L624.1 950.6L624.7 950.6L625.3 950.6L625.9 950.6L626.5 950.6L627.1 950.6L627.7 950.6L628.3 950.6L628.9 950.6L629.5 950.6L630.1 950.6L630.8 950.6L631.4 950.7L632.0 950.7L632.6 950.7L633.2 950.7L633.8 950.7L634.4 950.7L635.0 950.7L635.6 950.7L636.2 950.7L636.8 950.7L637.5 950.7L638.1 950.7L638.7 950.7L639.3 950.7L639.9 950.8L640.5 950.8L641.1 950.8L641.7 950.8L642.3 950.8L642.9 950.8L643.5 950.8L644.2 950.8L644.8 950.8L645.4 950.8L646.0 950.8L646.6 950.8L647.2 950.8L647.8 950.8L648.4 950.8L649.0 950.8L649.6 950.9L650.2 950.9L650.9 950.9L651.5 950.9L652.1 950.9L652.7 950.9L653.3 950.9L653.9 950.9L654.5 950.9L655.1 950.9L655.7 950.9L656.3 950.9L656.9 950.9L657.6 950.9L658.2 950.9L658.8 950.9L659.4 950.9L660.0 950.9L660.6 950.9L661.2 951.0L661.8 951.0L662.4 951.0L663.0 951.0L663.6 951.0L664.2 951.0L664.9 951.0L665.5 951.0L666.1 951.0L666.7 951.0L667.3 951.0L667.9 951.0L668.5 951.0L669.1 951.0L669.7 951.0L670.3 951.0L670.9 951.0L671.6 951.0L672.2 951.0L672.8 951.0L673.4 951.0L674.0 951.0L674.6 951.0L675.2 951.0L675.8 951.1L676.4 951.1L677.0 951.1L677.6 951.1L678.3 951.1L678.9 951.1L679.5 951.1L680.1 951.1L680.7 951.1L681.3 951.1L681.9 951.1L682.5 951.1L683.1 951.1L683.7 951.1L684.3 951.1L685.0 951.1L685.6 951.1L686.2 951.1L686.8 951.1L687.4 951.1L688.0 951.1L688.6 951.1L689.2 951.1L689.8 951.1L690.4 951.1L691.0 951.1L691.7 951.1L692.3 951.1L692.9 951.1L693.5 951.1L694.1 951.1L694.7 951.1L695.3 951.2L695.9 951.2L696.5 951.2L697.1 951.2L697.7 951.2L698.4 951.2L699.0 951.2L699.6 951.2L700.2 951.2L700.8 951.2L701.4 951.2L702.0 951.2L702.6 951.2L703.2 951.2L703.8 951.2L704.4 951.2L705.1 951.2L705.7 951.2L706.3 951.2L706.9 951.2L707.5 951.2L708.1 951.2L708.7 951.2L709.3 951.2L709.9 951.2L710.5 951.2L711.1 951.2L711.8 951.2L712.4 951.2L713.0 951.2L713.6 951.2L714.2 951.2L714.8 951.2L715.4 951.2L716.0 951.2L716.6 951.2L717.2 951.2L717.8 951.2L718.5 951.2L719.1 951.2L719.7 951.2L720.3 951.2L720.9 951.2L721.5 951.2L722.1 951.2L722.7 951.2L723.3 951.2L723.9 951.3L724.5 951.3L725.1 951.3L725.8 951.3L726.4 951.3L727.0 951.3L727.6 951.3L728.2 951.3L728.8 951.3L729.4 951.3L730.0 951.3L730.6 951.3L731.2 951.3L731.8 951.3L732.5 951.3L733.1 951.3L733.7 951.3L734.3 951.3L734.9 951.3L735.5 951.3L736.1 951.3L736.7 951.3L737.3 951.3L737.9 951.3L738.5 951.3L739.2 951.3L739.8 951.3L740.4 951.3L741.0 951.3L741.6 951.3L742.2 951.3L742.8 951.3L743.4 951.3L744.0 951.3L744.6 951.3L745.2 951.3L745.9 951.3L746.5 951.3L747.1 951.3L747.7 951.3L748.3 951.3L748.9 951.3L749.5 951.3L750.1 951.3L750.7 951.3L751.3 951.3L751.9 951.3L752.6 951.3L753.2 951.3L753.8 951.3L754.4 951.3L755.0 951.3L755.6 951.3L756.2 951.3L756.8 951.3L757.4 951.3L758.0 951.3L758.6 951.3L759.3 951.3L759.9 951.3L760.5 951.3L761.1 951.3L761.7 951.3L762.3 951.3L762.9 951.3L763.5 951.3L764.1 951.3L764.7 951.3L765.3 951.3L766.0 951.3L766.6 951.3L767.2 951.3L767.8 951.3L768.4 951.3L769.0 951.3L769.6 951.3L770.2 951.3L770.8 951.3L771.4 951.3L772.0 951.3L772.7 951.3L773.3 951.3L773.9 951.3L774.5 951.3L775.1 951.3L775.7 951.3L776.3 951.3L776.9 951.3L777.5 951.3L778.1 951.3L778.7 951.3L779.4 951.3L780.0 951.4L780.6 951.4L781.2 951.4L781.8 951.4L782.4 951.4L783.0 951.4L783.6 951.4L784.2 951.4L784.8 951.4L785.4 951.4L786.0 951.4L786.7 951.4L787.3 951.4L787.9 951.4L788.5 951.4L789.1 951.4L789.7 951.4L790.3 951.4L790.9 951.4L791.5 951.4L792.1 951.4L792.7 951.4L793.4 951.4L794.0 951.4L794.6 951.4L795.2 951.4L795.8 951.4L796.4 951.4L797.0 951.4L797.6 951.4L798.2 951.4L798.8 951.4L799.4 951.4L800.1 951.4L800.7 951.4L801.3 951.4L801.9 951.4L802.5 951.4L803.1 951.4L803.7 951.4L804.3 951.4L804.9 951.4L805.5 951.4L806.1 951.4L806.8 951.4L807.4 951.4L808.0 951.4L808.6 951.4L809.2 951.4L809.8 951.4L810.4 951.4L811.0 951.4L811.6 951.4L812.2 951.4L812.8 951.4L813.5 951.4L814.1 951.4L814.7 951.4L815.3 951.4L815.9 951.4L816.5 951.4L817.1 951.4L817.7 951.4L818.3 951.4L818.9 951.4L819.5 951.4L820.2 951.4L820.8 951.4L821.4 951.4L822.0 951.4L822.6 951.4L823.2 951.4L823.8 951.4L824.4 951.4L825.0 951.4L825.6 951.4L826.2 951.4L826.9 951.4L827.5 951.4L828.1 951.4L828.7 951.4L829.3 951.4L829.9 951.4L830.5 951.4L831.1 951.4L831.7 951.4L832.3 951.4L832.9 951.4L833.6 951.4L834.2 951.4L834.8 951.4L835.4 951.4L836.0 951.4L836.6 951.4L837.2 951.4L837.8 951.4L838.4 951.4L839.0 951.4L839.6 951.4L840.3 951.4L840.9 951.4L841.5 951.4L842.1 951.4L842.7 951.4L843.3 951.4L843.9 951.4L844.5 951.4L845.1 951.4L845.7 951.4L846.3 951.4L847.0 951.4L847.6 951.4L848.2 951.4L848.8 951.4L849.4 951.4L850.0 951.4L850.6 951.4L851.2 951.4L851.8 951.4L852.4 951.4L853.0 951.4L853.6 951.4L854.3 951.4L854.9 951.4L855.5 951.4L856.1 951.4L856.7 951.4L857.3 951.4L857.9 951.4L858.5 951.4L859.1 951.4L859.7 951.4L860.3 951.4L861.0 951.4L861.6 951.4L862.2 951.4L862.8 951.4L863.4 951.4L864.0 951.4L864.6 951.4L865.2 951.4L865.8 951.4L866.4 951.4L867.0 951.4L867.7 951.4L868.3 951.4L868.9 951.4L869.5 951.4L870.1 951.4L870.7 951.4L871.3 951.4L871.9 951.4L872.5 951.4L873.1 951.4L873.7 951.4L874.4 951.4L875.0 951.4L875.6 951.4L876.2 951.4L876.8 951.4L877.4 951.4L878.0 951.4L878.6 951.4L879.2 951.4L879.8 951.4L880.4 951.4L881.1 951.4L881.7 951.4L882.3 951.4L882.9 951.4L883.5 951.4L884.1 951.4L884.7 951.4L885.3 951.4L885.9 951.4L886.5 951.4L887.1 951.4L887.8 951.4L888.4 951.4L889.0 951.4L889.6 951.4L890.2 951.4L890.8 951.4L891.4 951.4L892.0 951.4L892.6 951.4L893.2 951.4L893.8 951.4L894.5 951.4L895.1 951.4L895.7 951.4L896.3 951.4L896.9 951.4L897.5 951.4L898.1 951.4L898.7 951.4L899.3 951.4L899.9 951.4L900.5 951.4L901.2 951.4L901.8 951.4L902.4 951.4L903.0 951.4L903.6 951.4L904.2 951.4L904.8 951.4L905.4 951.4L906.0 951.4L906.6 951.4L907.2 951.4L907.9 951.4L908.5 951.4L909.1 951.4L909.7 951.4L910.3 951.4L910.9 951.4L911.5 951.4L912.1 951.4L912.7 951.4L913.3 951.4L913.9 951.4L914.5 951.4L915.2 951.4L915.8 951.4L916.4 951.4L917.0 951.4L917.6 951.4L918.2 951.4L918.8 951.4L919.4 951.4L920.0 951.4L920.6 951.4L921.2 951.4L921.9 951.4L922.5 951.4L923.1 951.4L923.7 951.4L924.3 951.4L924.9 951.4L925.5 951.4L926.1 951.4L926.7 951.4L927.3 951.4L927.9 951.4L928.6 951.4L929.2 951.4L929.8 951.4L930.4 951.4L931.0 951.4L931.6 951.4L932.2 951.4L932.8 951.4L933.4 951.4L934.0 951.4L934.6 951.4L935.3 951.4L935.9 951.4L936.5 951.4L937.1 951.4L937.7 951.4L938.3 951.4L938.9 951.4L939.5 951.4L940.1 951.4L940.7 951.4L941.3 951.4L942.0 951.4L942.6 951.4L943.2 951.4L943.8 951.4L944.4 951.4L945.0 951.4L945.6 951.4L946.2 951.4L946.8 951.4L947.4 951.4L948.0 951.4L948.7 951.4L949.3 951.4L949.9 951.4L950.5 951.4L951.1 951.4L951.7 951.4L952.3 951.4L952.9 951.4L953.5 951.4L954.1 951.4L954.7 951.4L955.4 951.4L956.0 951.4L956.6 951.4L957.2 951.4L957.8 951.4L958.4 951.4L959.0 951.4L959.6 951.4L960.2 951.4L960.8 951.4L961.4 951.4L962.1 951.4L962.7 951.4L963.3 951.4L963.9 951.4L964.5 951.4L965.1 951.4L965.7 951.4L966.3 951.4L966.9 951.4L967.5 951.4L968.1 951.4L968.8 951.4L969.4 951.4L970.0 951.4L970.6 951.4L971.2 951.4L971.8 951.4L972.4 951.4L973.0 951.4L973.6 951.4L974.2 951.4L974.8 951.4L975.4 951.4L976.1 951.4L976.7 951.4L977.3 951.4L977.9 951.4L978.5 951.4L979.1 951.4L979.7 951.4L980.3 951.4L980.9 951.4L981.5 951.4L982.1 951.4L982.8 951.4L983.4 951.4L984.0 951.4L984.6 951.4L985.2 951.4L985.8 951.4L986.4 951.4L987.0 951.4L987.6 951.4L988.2 951.4L988.8 951.4L989.5 951.4L990.1 951.4L990.7 951.4L991.3 951.4L991.9 951.4L992.5 951.4L993.1 951.4L993.7 951.4L994.3 951.4L994.9 951.4L995.5 951.4L996.2 951.4L996.8 951.4L997.4 951.4L998.0 951.4L998.6 951.4L999.2 951.4L999.8 951.4L1000.4 951.4L1001.0 951.4L1001.6 951.4L1002.2 951.4L1002.9 951.4L1003.5 951.4L1004.1 951.4L1004.7 951.4L1005.3 951.4L1005.9 951.4L1006.5 951.4L1007.1 951.4L1007.7 951.4L1008.3 951.4L1008.9 951.4L1009.6 951.4L1010.2 951.4L1010.8 951.4L1011.4 951.4L1012.0 951.4L1012.6 951.4L1013.2 951.4L1013.8 951.4L1014.4 951.4L1015.0 951.4L1015.6 951.4L1016.3 951.4L1016.9 951.4L1017.5 951.4L1018.1 951.4L1018.7 951.4L1019.3 951.4L1019.9 951.4L1020.5 951.4L1021.1 951.4L1021.7 951.4L1022.3 951.4L1023.0 951.4L1023.6 951.4L1024.2 951.4L1024.8 951.4L1025.4 951.4L1026.0 951.4L1026.6 951.4L1027.2 951.4L1027.8 951.4L1028.4 951.4L1029.0 951.4L1029.7 951.4L1030.3 951.4L1030.9 951.4L1031.5 951.4L1032.1 951.4L1032.7 951.4L1033.3 951.4L1033.9 951.4L1034.5 951.4L1035.1 951.4L1035.7 951.4L1036.3 951.4L1037.0 951.4L1037.6 951.4L1038.2 951.4L1038.8 951.4L1039.4 951.4L1040.0 951.4L1040.6 951.4L1041.2 951.4L1041.8 951.4L1042.4 951.4L1043.0 951.4L1043.7 951.4L1044.3 951.4L1044.9 951.4L1045.5 951.4L1046.1 951.4L1046.7 951.4L1047.3 951.4L1047.9 951.4L1048.5 951.4L1049.1 951.4L1049.7 951.4L1050.4 951.4L1051.0 951.4L1051.6 951.4L1052.2 951.4L1052.8 951.4L1053.4 951.4L1054.0 951.4L1054.6 951.4L1055.2 951.4L1055.8 951.4L1056.4 951.4L1057.1 951.4L1057.7 951.4L1058.3 951.4L1058.9 951.4L1059.5 951.4L1060.1 951.4L1060.7 951.4L1061.3 951.4L1061.9 951.4L1062.5 951.4L1063.1 951.4L1063.8 951.4L1064.4 951.4L1065.0 951.4L1065.6 951.4L1066.2 951.4L1066.8 951.4L1067.4 951.4L1068.0 951.4L1068.6 951.4L1069.2 951.4L1069.8 951.4L1070.5 951.4L1071.1 951.4L1071.7 951.4L1072.3 951.4L1072.9 951.4L1073.5 951.4L1074.1 951.4L1074.7 951.4L1075.3 951.4L1075.9 951.4L1076.5 951.4L1077.2 951.4L1077.8 951.4L1078.4 951.4L1079.0 951.4L1079.6 951.4L1080.2 951.4L1080.8 951.4L1081.4 951.4L1082.0 951.4L1082.6 951.4L1083.2 951.4L1083.9 951.4L1084.5 951.4L1085.1 951.4L1085.7 951.4L1086.3 951.4L1086.9 951.4L1087.5 951.4L1088.1 951.4L1088.7 951.4L1089.3 951.4L1089.9 951.4L1090.5 951.4L1091.2 951.4L1091.8 951.4L1092.4 951.4L1093.0 951.4L1093.6 951.4L1094.2 951.4L1094.8 951.4L1095.4 951.4L1096.0 951.4L1096.6 951.4L1097.2 951.4L1097.9 951.4L1098.5 951.4L1099.1 951.4L1099.7 951.4L1100.3 951.4L1100.9 951.4L1101.5 951.4L1102.1 951.4L1102.7 951.4L1103.3 951.4L1103.9 951.4L1104.6 951.4L1105.2 951.4L1105.8 951.4L1106.4 951.4L1107.0 951.4L1107.6 951.4L1108.2 951.4L1108.8 951.4L1109.4 951.4L1110.0 951.4L1110.6 951.4L1111.3 951.4L1111.9 951.4L1112.5 951.4L1113.1 951.4L1113.7 951.4L1114.3 951.4L1114.9 951.4L1115.5 951.4L1116.1 951.4L1116.7 951.4L1117.3 951.4L1118.0 951.4L1118.6 951.4L1119.2 951.4L1119.8 951.4L1120.4 951.4L1121.0 951.4L1121.6 951.4L1122.2 951.4L1122.8 951.4L1123.4 951.4L1124.0 951.4L1124.7 951.4L1125.3 951.4L1125.9 951.4L1126.5 951.4L1127.1 951.4L1127.7 951.4L1128.3 951.4L1128.9 951.4L1129.5 951.4L1130.1 951.4L1130.7 951.4L1131.4 951.4L1132.0 951.4L1132.6 951.4L1133.2 951.4L1133.8 951.4L1134.4 951.4L1135.0 951.4L1135.6 951.4L1136.2 951.4L1136.8 951.4L1137.4 951.4L1138.1 951.4L1138.7 951.4L1139.3 951.4L1139.9 951.4L1140.5 951.4L1141.1 951.4L1141.7 951.4L1142.3 951.4L1142.9 951.4L1143.5 951.4L1144.1 951.4L1144.8 951.4L1145.4 951.4L1146.0 951.4L1146.6 951.4L1147.2 951.4L1147.8 951.4L1148.4 951.4L1149.0 951.4L1149.6 951.4L1150.2 951.4L1150.8 951.4L1151.5 951.4L1152.1 951.4L1152.7 951.4L1153.3 951.4L1153.9 951.4L1154.5 951.4L1155.1 951.4L1155.7 951.4L1156.3 951.4L1156.9 951.4L1157.5 951.4L1158.1 951.4L1158.8 951.4L1159.4 951.4L1160.0 951.4L1160.6 951.4L1161.2 951.4L1161.8 951.4L1162.4 951.4L1163.0 951.4L1163.6 951.4L1164.2 951.4L1164.8 951.4L1165.5 951.4L1166.1 951.4L1166.7 951.4L1167.3 951.4L1167.9 951.4L1168.5 951.4L1169.1 951.4L1169.7 951.4L1170.3 951.4L1170.9 951.4L1171.5 951.4L1172.2 951.4L1172.8 951.4L1173.4 951.4L1174.0 951.4L1174.6 951.4L1175.2 951.4L1175.8 951.4L1176.4 951.4L1177.0 951.4L1177.6 951.4L1178.2 951.4L1178.9 951.4L1179.5 951.4L1180.1 951.4L1180.7 951.4L1181.3 951.4L1181.9 951.4L1182.5 951.4L1183.1 951.4L1183.7 951.4L1184.3 951.4L1184.9 951.4L1185.6 951.4L1186.2 951.4L1186.8 951.4L1187.4 951.4L1188.0 951.4L1188.6 951.4L1189.2 951.4L1189.8 951.4L1190.4 951.4L1191.0 951.4L1191.6 951.4L1192.3 951.4L1192.9 951.4L1193.5 951.4L1194.1 951.4L1194.7 951.4L1195.3 951.4L1195.9 951.4L1196.5 951.4L1197.1 951.4L1197.7 951.4L1198.3 951.4L1199.0 951.4L1199.6 951.4L1200.2 951.4L1200.8 951.4L1201.4 951.4L1202.0 951.4L1202.6 951.4L1203.2 951.4L1203.8 951.4L1204.4 951.4L1205.0 951.4L1205.7 951.4L1206.3 951.4L1206.9 951.4L1207.5 951.4L1208.1 951.4L1208.7 951.4L1209.3 951.4L1209.9 951.4L1210.5 951.4L1211.1 951.4L1211.7 951.4L1212.3 951.4L1213.0 951.4L1213.6 951.4L1214.2 951.4L1214.8 951.4L1215.4 951.4L1216.0 951.4L1216.6 951.4L1217.2 951.4L1217.8 951.4L1218.4 951.4L1219.0 951.4L1219.7 951.4L1220.3 951.4L1220.9 951.4L1221.5 951.4L1222.1 951.4L1222.7 951.4L1223.3 951.4L1223.9 951.4L1224.5 951.4L1225.1 951.4L1225.7 951.4L1226.4 951.4L1227.0 951.4L1227.6 951.4L1228.2 951.4L1228.8 951.4L1229.4 951.4L1230.0 951.4L1230.6 951.4L1231.2 951.4L1231.8 951.4L1232.4 951.4L1233.1 951.4L1233.7 951.4L1234.3 951.4L1234.9 951.4L1235.5 951.4L1236.1 951.4L1236.7 951.4L1237.3 951.4L1237.9 951.4L1238.5 951.4L1239.1 951.4L1239.8 951.4L1240.4 951.4L1241.0 951.4L1241.6 951.4L1242.2 951.4L1242.8 951.4L1243.4 951.4L1244.0 951.4L1244.6 951.4L1245.2 951.4L1245.8 951.4L1246.5 951.4L1247.1 951.4L1247.7 951.4L1248.3 951.4L1248.9 951.4L1249.5 951.4L1250.1 951.4L1250.7 951.4L1251.3 951.4L1251.9 951.4L1252.5 951.4L1253.2 951.4L1253.8 951.4L1254.4 951.4L1255.0 951.4L1255.6 951.4L1256.2 951.4L1256.8 951.4L1257.4 951.4L1258.0 951.4L1258.6 951.4L1259.2 951.4L1259.9 951.4L1260.5 951.4L1261.1 951.4L1261.7 951.4L1262.3 951.4L1262.9 951.4L1263.5 951.4L1264.1 951.4L1264.7 951.4L1265.3 951.4L1265.9 951.4L1266.6 951.4L1267.2 951.4L1267.8 951.4L1268.4 951.4L1269.0 951.4L1269.6 951.4L1270.2 951.4L1270.8 951.4L1271.4 951.4L1272.0 951.4L1272.6 951.4L1273.2 951.4L1273.9 951.4L1274.5 951.4L1275.1 951.4L1275.7 951.4L1276.3 951.4L1276.9 951.4L1277.5 951.4L1278.1 951.4L1278.7 951.4L1279.3 951.4L1279.9 951.4L1280.6 951.4L1281.2 951.4L1281.8 951.4L1282.4 951.4L1283.0 951.4L1283.6 951.4L1284.2 951.4L1284.8 951.4L1285.4 951.4L1286.0 951.4L1286.6 951.4L1287.3 951.4L1287.9 951.4L1288.5 951.4L1289.1 951.4L1289.7 951.4L1290.3 951.4L1290.9 951.4L1291.5 951.4L1292.1 951.4L1292.7 951.4L1293.3 951.4L1294.0 951.4L1294.6 951.4L1295.2 951.4L1295.8 951.4L1296.4 951.4L1297.0 951.4L1297.6 951.4L1298.2 951.4L1298.8 951.4L1299.4 951.4L1300.0 951.4L1300.7 951.4L1301.3 951.4L1301.9 951.4L1302.5 951.4L1303.1 951.4L1303.7 951.4L1304.3 951.4L1304.9 951.4L1305.5 951.4L1306.1 951.4L1306.7 951.4L1307.4 951.4L1308.0 951.4L1308.6 951.4L1309.2 951.4L1309.8 951.4L1310.4 951.4L1311.0 951.4L1311.6 951.4L1312.2 951.4L1312.8 951.4L1313.4 951.4L1314.1 951.4L1314.7 951.4L1315.3 951.4L1315.9 951.4L1316.5 951.4L1317.1 951.4L1317.7 951.4L1318.3 951.4L1318.9 951.4L1319.5 951.4L1320.1 951.4L1320.8 951.4L1321.4 951.4L1322.0 951.4L1322.6 951.4L1323.2 951.4L1323.8 951.4L1324.4 951.4L1325.0 951.4L1325.6 951.4L1326.2 951.4L1326.8 951.4L1327.5 951.4L1328.1 951.4L1328.7 951.4L1329.3 951.4L1329.9 951.4L1330.5 951.4L1331.1 951.4L1331.7 951.4L1332.3 951.4L1332.9 951.4L1333.5 951.4L1334.2 951.4L1334.8 951.4L1335.4 951.4L1336.0 951.4L1336.6 951.4L1337.2 951.4L1337.8 951.4L1338.4 951.4L1339.0 951.4L1339.6 951.4L1340.2 951.4L1340.8 951.4L1341.5 951.4L1342.1 951.4L1342.7 951.4L1343.3 951.4L1343.9 951.4L1344.5 951.4L1345.1 951.4L1345.7 951.4L1346.3 951.4L1346.9 951.4L1347.5 951.4L1348.2 951.4L1348.8 951.4L1349.4 951.4L1350.0 951.4L1350.6 951.4L1351.2 951.4L1351.8 951.4L1352.4 951.4L1353.0 951.4L1353.6 951.4L1354.2 951.4L1354.9 951.4L1355.5 951.4L1356.1 951.4L1356.7 951.4L1357.3 951.4L1357.9 951.4L1358.5 951.4L1359.1 951.4L1359.7 951.4L1360.3 951.4L1360.9 951.4L1361.6 951.4L1362.2 951.4L1362.8 951.4L1363.4 951.4L1364.0 951.4L1364.6 951.4L1365.2 951.4L1365.8 951.4L1366.4 951.4L1367.0 951.4L1367.6 951.4L1368.3 951.4L1368.9 951.4L1369.5 951.4L1370.1 951.4L1370.7 951.4L1371.3 951.4L1371.9 951.4L1372.5 951.4L1373.1 951.4L1373.7 951.4L1374.3 951.4L1375.0 951.4L1375.6 951.4L1376.2 951.4L1376.8 951.4L1377.4 951.4L1378.0 951.4L1378.6 951.4L1379.2 951.4L1379.8 951.4L1380.4 951.4L1381.0 951.4L1381.7 951.4L1382.3 951.4L1382.9 951.4L1383.5 951.4L1384.1 951.4L1384.7 951.4L1385.3 951.4L1385.9 951.4L1386.5 951.4L1387.1 951.4L1387.7 951.4L1388.4 951.4L1389.0 951.4L1389.6 951.4L1390.2 951.4L1390.8 951.4L1391.4 951.4L1392.0 951.4L1392.6 951.4L1393.2 951.4L1393.8 951.4L1394.4 951.4L1395.0 951.4L1395.7 951.4L1396.3 951.4L1396.9 951.4L1397.5 951.4L1398.1 951.4L1398.7 951.4L1399.3 951.4L1399.9 951.4L1400.5 951.4L1401.1 951.4L1401.7 951.4L1402.4 951.4L1403.0 951.4L1403.6 951.4L1404.2 951.4L1404.8 951.4L1405.4 951.4L1406.0 951.4L1406.6 951.4L1407.2 951.4L1407.8 951.4L1408.4 951.4L1409.1 951.4L1409.7 951.4L1410.3 951.4L1410.9 951.4L1411.5 951.4L1412.1 951.4L1412.7 951.4L1413.3 951.4L1413.9 951.4L1414.5 951.4L1415.1 951.4L1415.8 951.4L1416.4 951.4L1417.0 951.4L1417.6 951.4L1418.2 951.4L1418.8 951.4L1419.4 951.4L1420.0 951.4L1420.6 951.4L1421.2 951.4L1421.8 951.4L1422.5 951.4L1423.1 951.4L1423.7 951.4L1424.3 951.4L1424.9 951.4L1425.5 951.4" stroke="#377640" stroke-dasharray="28.4 16.48"/>
</g>
<g font-family="Liberation Serif, serif" font-size="52" fill="#231f20"><text x="188" y="1005.1" text-anchor="end">0</text><text x="188" y="844.8" text-anchor="end">0.2</text><text x="188" y="684.4" text-anchor="end">0.4</text><text x="188" y="524.1" text-anchor="end">0.6</text><text x="188" y="363.8" text-anchor="end">0.8</text><text x="188" y="203.4" text-anchor="end">1.0</text><text x="188" y="43.1" text-anchor="end">1.2</text><text x="207.5" y="1047.5" text-anchor="middle">0</text><text x="329.3" y="1047.5" text-anchor="middle">2</text><text x="451.1" y="1047.5" text-anchor="middle">4</text><text x="572.9" y="1047.5" text-anchor="middle">6</text><text x="694.7" y="1047.5" text-anchor="middle">8</text><text x="816.5" y="1047.5" text-anchor="middle">10</text><text x="938.3" y="1047.5" text-anchor="middle">12</text><text x="1060.1" y="1047.5" text-anchor="middle">14</text><text x="1181.9" y="1047.5" text-anchor="middle">16</text><text x="1303.7" y="1047.5" text-anchor="middle">18</text><text x="1425.5" y="1047.5" text-anchor="middle">20</text><text x="816.5" y="1106" text-anchor="middle">Time (s)</text></g>
<rect x="381.5" y="48.6" width="1020.7" height="60.4" fill="#fff" stroke="#231f20" stroke-width="2.7" stroke-linejoin="round"/>
<g font-family="Liberation Serif, serif" fill="#231f20"><path d="M413.8 78.5H526.5" stroke="#d7282e" stroke-width="3.3" fill="none"/><text x="543.4" y="86.5" font-size="52" font-style="italic">y</text><text x="566.5" y="95.8" font-size="30.0">1</text><path d="M611.6 78.5H724.3" stroke="#c4492a" stroke-width="3.3" fill="none"/><text x="743.1" y="86.5" font-size="52" font-style="italic">y</text><text x="766.1" y="95.8" font-size="30.0">2</text><path d="M810.5 78.5H923.2" stroke="#2f4a9a" stroke-width="3.3" fill="none"/><text x="942.0" y="86.5" font-size="52" font-style="italic">y</text><text x="964.5" y="95.8" font-size="30.0">3</text><path d="M1009.6 78.5H1122.3" stroke="#682c86" stroke-width="3.3" stroke-dasharray="28.4 16.48" fill="none"/><text x="1142.1" y="86.5" font-size="52" font-style="italic">y</text><text x="1164.4" y="95.8" font-size="30.0"><tspan font-style="italic">r</tspan>1</text><path d="M1210.0 78.5H1322.7" stroke="#377640" stroke-width="3.3" stroke-dasharray="28.4 16.48" fill="none"/><text x="1341.4" y="86.5" font-size="52" font-style="italic">y</text><text x="1365.6" y="95.8" font-size="30.0"><tspan font-style="italic">r</tspan>2</text></g>
</svg>
</body></html>
